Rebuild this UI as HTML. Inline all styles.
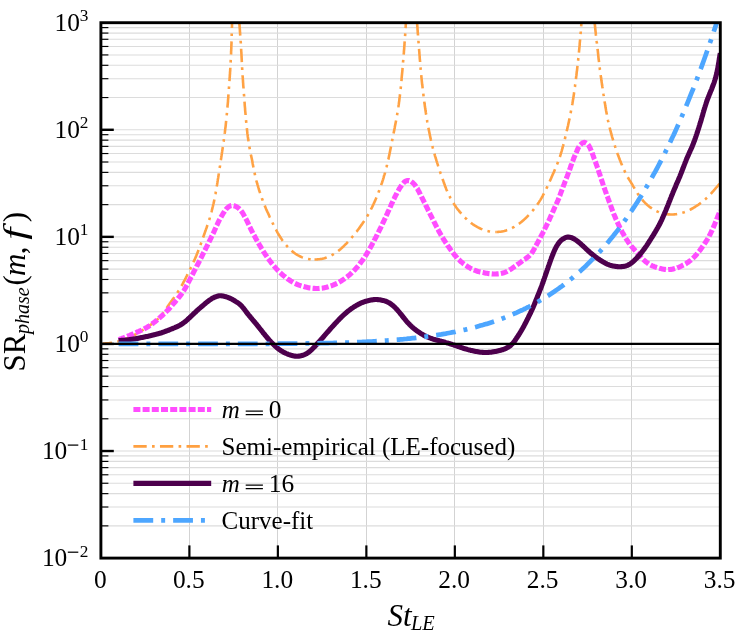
<!DOCTYPE html>
<html><head><meta charset="utf-8"><style>
html,body{margin:0;padding:0;background:#fff;}
svg{display:block;}
text{font-family:"Liberation Serif",serif;fill:#000;}
svg{will-change:transform;}
</style></head><body>
<svg width="736" height="639" viewBox="0 0 736 639">
<rect width="736" height="639" fill="#fff"/>
<defs><clipPath id="c"><rect x="100.9" y="22.7" width="619.4" height="535.4"/></clipPath></defs>
<g stroke="#dcdcdc" stroke-width="1.1">
<line x1="189.5" y1="22.7" x2="189.5" y2="558.1" stroke="#d3d3d3" stroke-width="1"/><line x1="277.5" y1="22.7" x2="277.5" y2="558.1" stroke="#d3d3d3" stroke-width="1"/><line x1="366.5" y1="22.7" x2="366.5" y2="558.1" stroke="#d3d3d3" stroke-width="1"/><line x1="454.5" y1="22.7" x2="454.5" y2="558.1" stroke="#d3d3d3" stroke-width="1"/><line x1="543.5" y1="22.7" x2="543.5" y2="558.1" stroke="#d3d3d3" stroke-width="1"/><line x1="631.5" y1="22.7" x2="631.5" y2="558.1" stroke="#d3d3d3" stroke-width="1"/>
<line x1="100.9" y1="525.87" x2="720.3" y2="525.87"/><line x1="100.9" y1="507.01" x2="720.3" y2="507.01"/><line x1="100.9" y1="493.63" x2="720.3" y2="493.63"/><line x1="100.9" y1="483.25" x2="720.3" y2="483.25"/><line x1="100.9" y1="474.78" x2="720.3" y2="474.78"/><line x1="100.9" y1="467.61" x2="720.3" y2="467.61"/><line x1="100.9" y1="461.40" x2="720.3" y2="461.40"/><line x1="100.9" y1="455.92" x2="720.3" y2="455.92"/><line x1="100.9" y1="451.02" x2="720.3" y2="451.02"/><line x1="100.9" y1="418.79" x2="720.3" y2="418.79"/><line x1="100.9" y1="399.93" x2="720.3" y2="399.93"/><line x1="100.9" y1="386.55" x2="720.3" y2="386.55"/><line x1="100.9" y1="376.17" x2="720.3" y2="376.17"/><line x1="100.9" y1="367.70" x2="720.3" y2="367.70"/><line x1="100.9" y1="360.53" x2="720.3" y2="360.53"/><line x1="100.9" y1="354.32" x2="720.3" y2="354.32"/><line x1="100.9" y1="348.84" x2="720.3" y2="348.84"/><line x1="100.9" y1="343.94" x2="720.3" y2="343.94"/><line x1="100.9" y1="311.71" x2="720.3" y2="311.71"/><line x1="100.9" y1="292.85" x2="720.3" y2="292.85"/><line x1="100.9" y1="279.47" x2="720.3" y2="279.47"/><line x1="100.9" y1="269.09" x2="720.3" y2="269.09"/><line x1="100.9" y1="260.62" x2="720.3" y2="260.62"/><line x1="100.9" y1="253.45" x2="720.3" y2="253.45"/><line x1="100.9" y1="247.24" x2="720.3" y2="247.24"/><line x1="100.9" y1="241.76" x2="720.3" y2="241.76"/><line x1="100.9" y1="236.86" x2="720.3" y2="236.86"/><line x1="100.9" y1="204.63" x2="720.3" y2="204.63"/><line x1="100.9" y1="185.77" x2="720.3" y2="185.77"/><line x1="100.9" y1="172.39" x2="720.3" y2="172.39"/><line x1="100.9" y1="162.01" x2="720.3" y2="162.01"/><line x1="100.9" y1="153.54" x2="720.3" y2="153.54"/><line x1="100.9" y1="146.37" x2="720.3" y2="146.37"/><line x1="100.9" y1="140.16" x2="720.3" y2="140.16"/><line x1="100.9" y1="134.68" x2="720.3" y2="134.68"/><line x1="100.9" y1="129.78" x2="720.3" y2="129.78"/><line x1="100.9" y1="97.55" x2="720.3" y2="97.55"/><line x1="100.9" y1="78.69" x2="720.3" y2="78.69"/><line x1="100.9" y1="65.31" x2="720.3" y2="65.31"/><line x1="100.9" y1="54.93" x2="720.3" y2="54.93"/><line x1="100.9" y1="46.46" x2="720.3" y2="46.46"/><line x1="100.9" y1="39.29" x2="720.3" y2="39.29"/><line x1="100.9" y1="33.08" x2="720.3" y2="33.08"/><line x1="100.9" y1="27.60" x2="720.3" y2="27.60"/>
</g>
<g clip-path="url(#c)" fill="none" stroke-linejoin="round">
<path d="M102.8,343.6 L103.8,343.6 L104.8,343.5 L105.8,343.4 L106.8,343.4 L107.8,343.3 L108.8,343.2 L109.8,343.0 L110.8,342.9 L111.8,342.7 L112.7,342.6 L113.7,342.4 L114.7,342.2 L115.7,341.9 L116.7,341.7 L117.6,341.5 L118.6,341.2 L119.5,340.9 L120.5,340.6 L121.5,340.3 L122.4,340.0 L123.4,339.7 L124.3,339.3 L125.2,339.0 L126.2,338.6 L127.1,338.3 L128.0,337.9 L128.9,337.5 L129.9,337.1 L130.8,336.7 L131.7,336.3 L132.6,335.9 L133.5,335.4 L134.4,335.0 L135.3,334.5 L136.2,334.1 L137.0,333.6 L137.9,333.1 L138.8,332.6 L139.6,332.1 L140.5,331.5 L141.3,331.0 L142.2,330.5 L143.0,329.9 L143.9,329.4 L144.7,328.9 L145.5,328.3 L146.4,327.7 L147.2,327.2 L148.0,326.6 L148.9,326.1 L149.7,325.5 L150.5,324.9 L151.3,324.3 L152.1,323.8 L152.9,323.2 L153.7,322.5 L154.5,321.9 L155.3,321.3 L156.0,320.6 L156.8,320.0 L157.5,319.3 L158.2,318.6 L158.9,317.9 L159.6,317.1 L160.3,316.4 L161.0,315.6 L161.6,314.9 L162.2,314.1 L162.9,313.3 L163.5,312.5 L164.1,311.7 L164.6,310.9 L165.2,310.1 L165.8,309.3 L166.3,308.4 L166.9,307.6 L167.5,306.8 L168.0,306.0 L168.6,305.1 L169.2,304.3 L169.7,303.5 L170.3,302.7 L170.9,301.9 L171.5,301.1 L172.1,300.2 L172.7,299.4 L173.3,298.6 L173.9,297.8 L174.4,297.0 L175.0,296.2 L175.6,295.4 L176.2,294.5 L176.7,293.7 L177.3,292.9 L177.8,292.0 L178.3,291.2 L178.9,290.4 L179.4,289.5 L179.9,288.6 L180.4,287.8 L180.9,286.9 L181.4,286.1 L181.9,285.2 L182.4,284.3 L182.9,283.4 L183.4,282.5 L183.8,281.7 L184.3,280.8 L184.8,279.9 L185.2,279.0 L185.7,278.1 L186.1,277.2 L186.6,276.3 L187.0,275.4 L187.5,274.5 L187.9,273.7 L188.4,272.8 L188.8,271.9 L189.3,271.0 L189.7,270.1 L190.1,269.2 L190.6,268.3 L191.0,267.4 L191.5,266.5 L191.9,265.6 L192.3,264.7 L192.7,263.8 L193.2,262.9 L193.6,261.9 L194.0,261.0 L194.4,260.1 L194.8,259.2 L195.2,258.3 L195.6,257.4 L196.0,256.4 L196.4,255.5 L196.7,254.6 L197.1,253.7 L197.5,252.7 L197.9,251.8 L198.2,250.9 L198.6,250.0 L199.0,249.0 L199.3,248.1 L199.7,247.1 L200.0,246.2 L200.4,245.3 L200.7,244.3 L201.0,243.4 L201.4,242.4 L201.7,241.5 L202.0,240.6 L202.4,239.6 L202.7,238.7 L203.0,237.7 L203.4,236.8 L203.7,235.8 L204.0,234.9 L204.4,234.0 L204.7,233.0 L205.0,232.1 L205.4,231.1 L205.7,230.2 L206.0,229.2 L206.4,228.3 L206.7,227.4 L207.0,226.4 L207.3,225.5 L207.7,224.5 L208.0,223.6 L208.3,222.6 L208.6,221.7 L208.9,220.7 L209.2,219.8 L209.5,218.8 L209.8,217.8 L210.0,216.9 L210.3,215.9 L210.6,215.0 L210.9,214.0 L211.1,213.0 L211.4,212.1 L211.7,211.1 L211.9,210.1 L212.2,209.2 L212.4,208.2 L212.6,207.2 L212.9,206.3 L213.1,205.3 L213.3,204.3 L213.6,203.3 L213.8,202.4 L214.0,201.4 L214.2,200.4 L214.4,199.4 L214.6,198.4 L214.8,197.5 L215.0,196.5 L215.2,195.5 L215.4,194.5 L215.6,193.5 L215.7,192.5 L215.9,191.6 L216.1,190.6 L216.2,189.6 L216.4,188.6 L216.6,187.6 L216.7,186.6 L216.9,185.6 L217.1,184.7 L217.2,183.7 L217.4,182.7 L217.5,181.7 L217.7,180.7 L217.8,179.7 L218.0,178.7 L218.2,177.7 L218.3,176.8 L218.5,175.8 L218.6,174.8 L218.8,173.8 L218.9,172.8 L219.1,171.8 L219.2,170.8 L219.4,169.8 L219.5,168.8 L219.7,167.9 L219.8,166.9 L220.0,165.9 L220.1,164.9 L220.3,163.9 L220.4,162.9 L220.6,161.9 L220.7,160.9 L220.9,159.9 L221.0,159.0 L221.2,158.0 L221.3,157.0 L221.5,156.0 L221.6,155.0 L221.8,154.0 L221.9,153.0 L222.1,152.0 L222.2,151.1 L222.4,150.1 L222.5,149.1 L222.7,148.1 L222.8,147.1 L223.0,146.1 L223.1,145.1 L223.2,144.1 L223.4,143.1 L223.5,142.1 L223.7,141.2 L223.8,140.2 L223.9,139.2 L224.1,138.2 L224.2,137.2 L224.3,136.2 L224.5,135.2 L224.6,134.2 L224.7,133.2 L224.9,132.2 L225.0,131.2 L225.1,130.2 L225.2,129.3 L225.3,128.3 L225.5,127.3 L225.6,126.3 L225.7,125.3 L225.8,124.3 L225.9,123.3 L226.0,122.3 L226.1,121.3 L226.2,120.3 L226.3,119.3 L226.4,118.3 L226.5,117.3 L226.6,116.3 L226.7,115.3 L226.8,114.3 L226.9,113.3 L227.0,112.3 L227.1,111.4 L227.2,110.4 L227.3,109.4 L227.4,108.4 L227.5,107.4 L227.5,106.4 L227.6,105.4 L227.7,104.4 L227.8,103.4 L227.9,102.4 L228.0,101.4 L228.0,100.4 L228.1,99.4 L228.2,98.4 L228.3,97.4 L228.3,96.4 L228.4,95.4 L228.5,94.4 L228.6,93.4 L228.6,92.4 L228.7,91.4 L228.8,90.4 L228.9,89.4 L228.9,88.4 L229.0,87.4 L229.1,86.4 L229.1,85.4 L229.2,84.4 L229.3,83.4 L229.4,82.4 L229.4,81.4 L229.5,80.4 L229.6,79.4 L229.6,78.5 L229.7,77.5 L229.8,76.5 L229.8,75.5 L229.9,74.5 L230.0,73.5 L230.0,72.5 L230.1,71.5 L230.2,70.5 L230.2,69.5 L230.3,68.5 L230.3,67.5 L230.4,66.5 L230.5,65.5 L230.5,64.5 L230.6,63.5 L230.6,62.5 L230.7,61.5 L230.7,60.5 L230.8,59.5 L230.8,58.5 L230.9,57.5 L230.9,56.5 L231.0,55.5 L231.0,54.5 L231.1,53.5 L231.1,52.5 L231.1,51.5 L231.2,50.5 L231.2,49.5 L231.3,48.5 L231.3,47.5 L231.3,46.5 L231.4,45.5 L231.4,44.5 L231.5,43.5 L231.5,42.5 L231.5,41.5 L231.6,40.5 L231.6,39.5 L231.6,38.5 L231.7,37.5 L231.7,36.5 L231.7,35.5 L231.7,34.5 L231.8,33.5 L231.8,32.5 L231.8,31.5 L231.9,30.5 L231.9,29.5 L231.9,28.5 L231.9,27.5 L232.0,26.5 L232.0,25.5 L232.0,24.5 L232.0,23.5 L232.1,22.5 L232.1,21.5 L232.1,20.5 L232.1,19.5 L232.2,18.5 L232.2,17.5 L232.2,16.5 L232.2,15.5 L232.3,14.5 L232.3,13.5 L232.3,12.5 L232.3,11.5 L232.3,10.5 L232.4,9.5 L232.4,8.5 L232.4,7.5 L232.4,6.5 L232.5,5.5 L232.5,4.5 L232.5,3.5 L232.5,2.5 L232.6,1.5 L232.6,0.5 L232.6,0.0" stroke="#ffa244" stroke-width="2.6" stroke-dasharray="13.3 5.3 2.66 5.3" stroke-dashoffset="4.03"/>
<path d="M238.9,0.0 L238.9,1.0 L238.8,2.0 L238.8,3.0 L238.8,4.0 L238.8,5.0 L238.8,6.0 L238.8,7.0 L238.8,8.0 L238.8,9.0 L238.8,10.0 L238.8,11.0 L238.9,12.0 L238.9,13.0 L238.9,14.0 L239.0,15.0 L239.0,16.0 L239.0,17.0 L239.1,18.0 L239.1,19.0 L239.2,20.0 L239.2,21.0 L239.3,22.0 L239.4,23.0 L239.4,24.0 L239.5,25.0 L239.6,26.0 L239.6,27.0 L239.7,28.0 L239.8,29.0 L239.9,30.0 L239.9,31.0 L240.0,32.0 L240.1,33.0 L240.1,34.0 L240.2,35.0 L240.3,36.0 L240.4,37.0 L240.4,38.0 L240.5,39.0 L240.6,40.0 L240.6,41.0 L240.7,41.9 L240.8,42.9 L240.8,43.9 L240.9,44.9 L241.0,45.9 L241.0,46.9 L241.1,47.9 L241.1,48.9 L241.2,49.9 L241.2,50.9 L241.3,51.9 L241.4,52.9 L241.4,53.9 L241.5,54.9 L241.5,55.9 L241.6,56.9 L241.6,57.9 L241.7,58.9 L241.7,59.9 L241.8,60.9 L241.8,61.9 L241.9,62.9 L241.9,63.9 L242.0,64.9 L242.0,65.9 L242.1,66.9 L242.1,67.9 L242.2,68.9 L242.2,69.9 L242.3,70.9 L242.4,71.9 L242.4,72.9 L242.5,73.9 L242.6,74.9 L242.6,75.9 L242.7,76.9 L242.8,77.9 L242.8,78.9 L242.9,79.9 L243.0,80.9 L243.0,81.9 L243.1,82.9 L243.2,83.9 L243.2,84.9 L243.3,85.9 L243.4,86.9 L243.5,87.9 L243.5,88.9 L243.6,89.9 L243.7,90.9 L243.8,91.9 L243.8,92.9 L243.9,93.8 L244.0,94.8 L244.1,95.8 L244.1,96.8 L244.2,97.8 L244.3,98.8 L244.4,99.8 L244.4,100.8 L244.5,101.8 L244.6,102.8 L244.7,103.8 L244.7,104.8 L244.8,105.8 L244.9,106.8 L245.0,107.8 L245.1,108.8 L245.1,109.8 L245.2,110.8 L245.3,111.8 L245.4,112.8 L245.5,113.8 L245.6,114.8 L245.6,115.8 L245.7,116.8 L245.8,117.8 L245.9,118.8 L246.0,119.8 L246.1,120.8 L246.2,121.8 L246.3,122.8 L246.4,123.7 L246.5,124.7 L246.6,125.7 L246.7,126.7 L246.8,127.7 L246.9,128.7 L247.0,129.7 L247.1,130.7 L247.2,131.7 L247.3,132.7 L247.4,133.7 L247.6,134.7 L247.7,135.7 L247.8,136.7 L248.0,137.7 L248.1,138.7 L248.2,139.6 L248.4,140.6 L248.5,141.6 L248.7,142.6 L248.8,143.6 L249.0,144.6 L249.2,145.6 L249.3,146.6 L249.5,147.5 L249.7,148.5 L249.9,149.5 L250.1,150.5 L250.3,151.5 L250.5,152.5 L250.6,153.4 L250.8,154.4 L251.0,155.4 L251.3,156.4 L251.5,157.4 L251.7,158.3 L251.9,159.3 L252.1,160.3 L252.3,161.3 L252.5,162.3 L252.6,163.2 L252.8,164.2 L253.0,165.2 L253.2,166.2 L253.4,167.2 L253.6,168.1 L253.8,169.1 L254.0,170.1 L254.2,171.1 L254.4,172.1 L254.6,173.0 L254.8,174.0 L255.0,175.0 L255.2,176.0 L255.5,176.9 L255.7,177.9 L255.9,178.9 L256.2,179.9 L256.4,180.8 L256.7,181.8 L257.0,182.8 L257.2,183.7 L257.5,184.7 L257.8,185.6 L258.1,186.6 L258.4,187.6 L258.7,188.5 L258.9,189.5 L259.2,190.4 L259.5,191.4 L259.9,192.3 L260.2,193.3 L260.5,194.2 L260.8,195.2 L261.1,196.1 L261.4,197.1 L261.8,198.0 L262.1,199.0 L262.5,199.9 L262.8,200.8 L263.2,201.8 L263.5,202.7 L263.9,203.6 L264.3,204.5 L264.7,205.5 L265.0,206.4 L265.4,207.3 L265.8,208.2 L266.2,209.2 L266.6,210.1 L267.0,211.0 L267.4,211.9 L267.9,212.8 L268.3,213.7 L268.7,214.6 L269.1,215.5 L269.5,216.5 L269.9,217.4 L270.4,218.3 L270.8,219.2 L271.2,220.1 L271.6,221.0 L272.1,221.9 L272.5,222.8 L272.9,223.7 L273.4,224.6 L273.8,225.5 L274.2,226.4 L274.7,227.3 L275.2,228.2 L275.6,229.1 L276.1,229.9 L276.6,230.8 L277.0,231.7 L277.5,232.6 L278.0,233.4 L278.5,234.3 L279.1,235.2 L279.6,236.0 L280.1,236.9 L280.7,237.7 L281.2,238.5 L281.8,239.4 L282.3,240.2 L282.9,241.0 L283.5,241.8 L284.1,242.6 L284.7,243.4 L285.3,244.2 L286.0,245.0 L286.6,245.7 L287.3,246.5 L288.0,247.2 L288.7,247.9 L289.4,248.7 L290.1,249.4 L290.8,250.0 L291.6,250.7 L292.3,251.4 L293.1,252.0 L293.9,252.6 L294.7,253.2 L295.5,253.8 L296.4,254.3 L297.2,254.9 L298.1,255.4 L299.0,255.8 L299.9,256.3 L300.8,256.7 L301.7,257.1 L302.7,257.5 L303.6,257.8 L304.6,258.1 L305.5,258.4 L306.5,258.6 L307.5,258.8 L308.5,259.0 L309.5,259.2 L310.5,259.3 L311.5,259.4 L312.5,259.5 L313.5,259.5 L314.5,259.5" stroke="#ffa244" stroke-width="2.6" stroke-dasharray="13.3 5.3 2.66 5.3" stroke-dashoffset="4.23"/>
<path d="M314.5,259.5 L315.5,259.5 L316.5,259.5 L317.5,259.4 L318.5,259.3 L319.5,259.2 L320.5,259.0 L321.5,258.9 L322.4,258.7 L323.4,258.4 L324.4,258.2 L325.3,257.9 L326.3,257.6 L327.2,257.2 L328.2,256.9 L329.1,256.5 L330.0,256.1 L330.9,255.6 L331.8,255.1 L332.7,254.7 L333.5,254.2 L334.4,253.6 L335.2,253.1 L336.1,252.5 L336.9,251.9 L337.7,251.3 L338.5,250.7 L339.3,250.1 L340.1,249.5 L340.8,248.8 L341.6,248.2 L342.3,247.5 L343.1,246.8 L343.8,246.1 L344.5,245.4 L345.2,244.7 L345.9,244.0 L346.6,243.3 L347.3,242.5 L348.0,241.8 L348.6,241.0 L349.3,240.3 L350.0,239.5 L350.6,238.8 L351.3,238.0 L351.9,237.3 L352.6,236.5 L353.2,235.7 L353.8,235.0 L354.5,234.2 L355.1,233.4 L355.7,232.6 L356.3,231.8 L357.0,231.1 L357.6,230.3 L358.2,229.5 L358.8,228.7 L359.4,227.9 L360.0,227.1 L360.5,226.2 L361.1,225.4 L361.7,224.6 L362.3,223.8 L362.8,223.0 L363.4,222.1 L364.0,221.3 L364.5,220.5 L365.1,219.6 L365.6,218.8 L366.1,217.9 L366.6,217.1 L367.2,216.2 L367.7,215.4 L368.2,214.5 L368.7,213.6 L369.2,212.8 L369.6,211.9 L370.1,211.0 L370.6,210.1 L371.0,209.2 L371.5,208.3 L372.0,207.4 L372.4,206.5 L372.8,205.6 L373.3,204.7 L373.7,203.8 L374.1,202.9 L374.5,202.0 L374.9,201.1 L375.3,200.2 L375.7,199.3 L376.1,198.3 L376.5,197.4 L376.9,196.5 L377.3,195.6 L377.6,194.6 L378.0,193.7 L378.4,192.8 L378.7,191.8 L379.1,190.9 L379.4,190.0 L379.8,189.0 L380.1,188.1 L380.4,187.1 L380.8,186.2 L381.1,185.3 L381.4,184.3 L381.7,183.4 L382.1,182.4 L382.4,181.5 L382.7,180.5 L383.0,179.6 L383.3,178.6 L383.6,177.6 L383.8,176.7 L384.1,175.7 L384.4,174.8 L384.7,173.8 L385.0,172.8 L385.2,171.9 L385.5,170.9 L385.7,169.9 L386.0,169.0 L386.2,168.0 L386.5,167.0 L386.7,166.1 L387.0,165.1 L387.2,164.1 L387.5,163.2 L387.7,162.2 L387.9,161.2 L388.1,160.2 L388.4,159.3 L388.6,158.3 L388.8,157.3 L389.0,156.3 L389.2,155.4 L389.4,154.4 L389.6,153.4 L389.8,152.4 L390.0,151.4 L390.2,150.5 L390.4,149.5 L390.6,148.5 L390.8,147.5 L391.0,146.5 L391.2,145.6 L391.4,144.6 L391.6,143.6 L391.8,142.6 L392.0,141.6 L392.2,140.6 L392.3,139.7 L392.5,138.7 L392.7,137.7 L392.9,136.7 L393.1,135.7 L393.3,134.8 L393.5,133.8 L393.7,132.8 L393.9,131.8 L394.1,130.8 L394.3,129.8 L394.5,128.9 L394.7,127.9 L394.8,126.9 L395.0,125.9 L395.2,124.9 L395.4,124.0 L395.6,123.0 L395.8,122.0 L396.0,121.0 L396.2,120.0 L396.4,119.0 L396.5,118.1 L396.7,117.1 L396.9,116.1 L397.1,115.1 L397.2,114.1 L397.4,113.1 L397.6,112.2 L397.7,111.2 L397.9,110.2 L398.0,109.2 L398.2,108.2 L398.3,107.2 L398.5,106.2 L398.6,105.2 L398.8,104.2 L398.9,103.3 L399.0,102.3 L399.2,101.3 L399.3,100.3 L399.4,99.3 L399.5,98.3 L399.7,97.3 L399.8,96.3 L399.9,95.3 L400.0,94.3 L400.1,93.3 L400.2,92.3 L400.3,91.3 L400.4,90.3 L400.6,89.3 L400.7,88.4 L400.8,87.4 L400.9,86.4 L401.0,85.4 L401.1,84.4 L401.2,83.4 L401.3,82.4 L401.4,81.4 L401.5,80.4 L401.6,79.4 L401.6,78.4 L401.7,77.4 L401.8,76.4 L401.9,75.4 L402.0,74.4 L402.1,73.4 L402.2,72.4 L402.3,71.4 L402.4,70.4 L402.5,69.4 L402.5,68.4 L402.6,67.4 L402.7,66.4 L402.8,65.5 L402.9,64.5 L403.0,63.5 L403.0,62.5 L403.1,61.5 L403.2,60.5 L403.3,59.5 L403.4,58.5 L403.5,57.5 L403.5,56.5 L403.6,55.5 L403.7,54.5 L403.8,53.5 L403.9,52.5 L403.9,51.5 L404.0,50.5 L404.1,49.5 L404.2,48.5 L404.2,47.5 L404.3,46.5 L404.4,45.5 L404.5,44.5 L404.5,43.5 L404.6,42.5 L404.7,41.5 L404.8,40.5 L404.8,39.5 L404.9,38.5 L405.0,37.5 L405.0,36.5 L405.1,35.5 L405.2,34.5 L405.2,33.5 L405.3,32.5 L405.4,31.5 L405.4,30.5 L405.5,29.6 L405.5,28.6 L405.6,27.6 L405.7,26.6 L405.7,25.6 L405.8,24.6 L405.8,23.6 L405.9,22.6 L405.9,21.6 L406.0,20.6 L406.0,19.6 L406.1,18.6 L406.1,17.6 L406.2,16.6 L406.2,15.6 L406.2,14.6 L406.3,13.6 L406.3,12.6 L406.3,11.6 L406.4,10.6 L406.4,9.6 L406.4,8.6 L406.5,7.6 L406.5,6.6 L406.5,5.6 L406.5,4.6 L406.5,3.6 L406.6,2.6 L406.6,1.6 L406.6,0.6 L406.6,0.0" stroke="#ffa244" stroke-width="2.6" stroke-dasharray="13.3 5.3 2.66 5.3" stroke-dashoffset="0.84"/>
<path d="M416.4,0.0 L416.4,1.0 L416.4,2.0 L416.4,3.0 L416.4,4.0 L416.4,5.0 L416.4,6.0 L416.4,7.0 L416.5,8.0 L416.5,9.0 L416.5,10.0 L416.5,11.0 L416.6,12.0 L416.6,13.0 L416.7,14.0 L416.7,15.0 L416.7,16.0 L416.8,17.0 L416.8,18.0 L416.9,19.0 L416.9,20.0 L417.0,21.0 L417.1,22.0 L417.1,23.0 L417.2,24.0 L417.2,25.0 L417.3,26.0 L417.4,27.0 L417.5,28.0 L417.5,29.0 L417.6,30.0 L417.7,31.0 L417.7,32.0 L417.8,33.0 L417.9,34.0 L418.0,35.0 L418.0,36.0 L418.1,37.0 L418.2,38.0 L418.3,38.9 L418.4,39.9 L418.4,40.9 L418.5,41.9 L418.6,42.9 L418.7,43.9 L418.7,44.9 L418.8,45.9 L418.9,46.9 L419.0,47.9 L419.1,48.9 L419.1,49.9 L419.2,50.9 L419.3,51.9 L419.4,52.9 L419.4,53.9 L419.5,54.9 L419.6,55.9 L419.7,56.9 L419.7,57.9 L419.8,58.9 L419.9,59.9 L420.0,60.9 L420.1,61.9 L420.1,62.9 L420.2,63.9 L420.3,64.9 L420.4,65.9 L420.5,66.9 L420.6,67.9 L420.6,68.9 L420.7,69.9 L420.8,70.8 L420.9,71.8 L421.0,72.8 L421.1,73.8 L421.2,74.8 L421.3,75.8 L421.4,76.8 L421.5,77.8 L421.6,78.8 L421.7,79.8 L421.8,80.8 L421.9,81.8 L422.0,82.8 L422.1,83.8 L422.2,84.8 L422.4,85.8 L422.5,86.8 L422.6,87.8 L422.7,88.7 L422.8,89.7 L422.9,90.7 L423.0,91.7 L423.2,92.7 L423.3,93.7 L423.4,94.7 L423.5,95.7 L423.6,96.7 L423.8,97.7 L423.9,98.7 L424.0,99.7 L424.2,100.7 L424.3,101.7 L424.4,102.6 L424.5,103.6 L424.7,104.6 L424.8,105.6 L424.9,106.6 L425.1,107.6 L425.2,108.6 L425.4,109.6 L425.5,110.6 L425.7,111.6 L425.8,112.5 L426.0,113.5 L426.1,114.5 L426.3,115.5 L426.4,116.5 L426.6,117.5 L426.7,118.5 L426.9,119.5 L427.1,120.4 L427.2,121.4 L427.4,122.4 L427.6,123.4 L427.7,124.4 L427.9,125.4 L428.1,126.4 L428.3,127.3 L428.5,128.3 L428.7,129.3 L428.9,130.3 L429.1,131.3 L429.3,132.2 L429.5,133.2 L429.7,134.2 L429.9,135.2 L430.1,136.2 L430.3,137.1 L430.5,138.1 L430.7,139.1 L430.9,140.1 L431.2,141.0 L431.4,142.0 L431.6,143.0 L431.9,144.0 L432.1,144.9 L432.4,145.9 L432.6,146.9 L432.8,147.8 L433.1,148.8 L433.3,149.8 L433.6,150.7 L433.9,151.7 L434.1,152.7 L434.4,153.6 L434.7,154.6 L434.9,155.6 L435.2,156.5 L435.5,157.5 L435.8,158.4 L436.1,159.4 L436.4,160.4 L436.7,161.3 L437.0,162.3 L437.3,163.2 L437.6,164.2 L437.9,165.1 L438.2,166.1 L438.5,167.0 L438.8,168.0 L439.1,168.9 L439.4,169.9 L439.8,170.8 L440.1,171.8 L440.4,172.7 L440.7,173.7 L441.1,174.6 L441.4,175.5 L441.7,176.5 L442.0,177.4 L442.4,178.4 L442.7,179.3 L443.0,180.3 L443.4,181.2 L443.7,182.2 L444.0,183.1 L444.4,184.0 L444.7,185.0 L445.0,185.9 L445.4,186.9 L445.8,187.8 L446.1,188.7 L446.5,189.7 L446.9,190.6 L447.3,191.5 L447.7,192.4 L448.1,193.3 L448.5,194.2 L449.0,195.1 L449.4,196.0 L449.9,196.9 L450.3,197.8 L450.8,198.7 L451.3,199.6 L451.8,200.4 L452.3,201.3 L452.8,202.1 L453.4,203.0 L453.9,203.8 L454.4,204.7 L455.0,205.5 L455.6,206.3 L456.1,207.1 L456.7,208.0 L457.3,208.8 L457.9,209.6 L458.6,210.3 L459.2,211.1 L459.8,211.9 L460.5,212.7 L461.1,213.4 L461.8,214.2 L462.4,214.9 L463.1,215.7 L463.8,216.4 L464.5,217.1 L465.2,217.8 L465.9,218.5 L466.7,219.2 L467.4,219.9 L468.1,220.6 L468.9,221.2 L469.7,221.8 L470.5,222.5 L471.2,223.1 L472.1,223.7 L472.9,224.3 L473.7,224.8 L474.5,225.4 L475.4,225.9 L476.3,226.4 L477.1,226.9 L478.0,227.4 L478.9,227.8 L479.8,228.3 L480.7,228.7 L481.7,229.1 L482.6,229.5 L483.5,229.8 L484.5,230.1 L485.4,230.4 L486.4,230.7 L487.4,231.0 L488.4,231.2 L489.3,231.4 L490.3,231.6 L491.3,231.7 L492.3,231.8 L493.3,231.9 L494.3,232.0 L495.3,232.0 L496.3,232.0" stroke="#ffa244" stroke-width="2.6" stroke-dasharray="13.3 5.3 2.66 5.3" stroke-dashoffset="4.22"/>
<path d="M496.3,232.0 L497.3,232.0 L498.3,231.9 L499.3,231.8 L500.3,231.7 L501.3,231.6 L502.3,231.4 L503.3,231.2 L504.3,231.0 L505.2,230.7 L506.2,230.4 L507.2,230.1 L508.1,229.8 L509.0,229.4 L510.0,229.0 L510.9,228.6 L511.8,228.2 L512.7,227.7 L513.6,227.2 L514.4,226.8 L515.3,226.2 L516.1,225.7 L517.0,225.2 L517.8,224.6 L518.6,224.0 L519.5,223.4 L520.3,222.8 L521.0,222.2 L521.8,221.6 L522.6,220.9 L523.4,220.3 L524.1,219.6 L524.8,218.9 L525.6,218.2 L526.3,217.6 L527.0,216.9 L527.7,216.1 L528.4,215.4 L529.1,214.7 L529.8,214.0 L530.5,213.2 L531.1,212.5 L531.8,211.7 L532.4,211.0 L533.1,210.2 L533.7,209.4 L534.3,208.6 L535.0,207.8 L535.6,207.1 L536.2,206.2 L536.7,205.4 L537.3,204.6 L537.9,203.8 L538.4,203.0 L539.0,202.1 L539.5,201.3 L540.1,200.4 L540.6,199.6 L541.1,198.7 L541.6,197.9 L542.1,197.0 L542.6,196.1 L543.0,195.2 L543.5,194.3 L544.0,193.5 L544.4,192.6 L544.9,191.7 L545.3,190.8 L545.8,189.9 L546.2,189.0 L546.6,188.1 L547.1,187.2 L547.5,186.3 L547.9,185.4 L548.3,184.4 L548.8,183.5 L549.2,182.6 L549.6,181.7 L550.0,180.8 L550.4,179.9 L550.8,179.0 L551.2,178.1 L551.6,177.1 L552.0,176.2 L552.4,175.3 L552.8,174.4 L553.2,173.5 L553.6,172.6 L554.0,171.7 L554.4,170.7 L554.8,169.8 L555.2,168.9 L555.6,168.0 L556.0,167.0 L556.4,166.1 L556.7,165.2 L557.1,164.3 L557.5,163.3 L557.9,162.4 L558.2,161.5 L558.6,160.5 L558.9,159.6 L559.2,158.7 L559.6,157.7 L559.9,156.8 L560.2,155.8 L560.5,154.9 L560.8,153.9 L561.1,153.0 L561.4,152.0 L561.7,151.0 L561.9,150.1 L562.2,149.1 L562.5,148.2 L562.7,147.2 L563.0,146.2 L563.3,145.3 L563.5,144.3 L563.8,143.3 L564.0,142.3 L564.2,141.4 L564.5,140.4 L564.7,139.4 L565.0,138.5 L565.2,137.5 L565.4,136.5 L565.7,135.5 L565.9,134.6 L566.1,133.6 L566.4,132.6 L566.6,131.6 L566.8,130.7 L567.1,129.7 L567.3,128.7 L567.5,127.7 L567.7,126.8 L568.0,125.8 L568.2,124.8 L568.4,123.8 L568.6,122.9 L568.8,121.9 L569.0,120.9 L569.2,119.9 L569.5,119.0 L569.7,118.0 L569.9,117.0 L570.1,116.0 L570.3,115.0 L570.5,114.1 L570.7,113.1 L570.8,112.1 L571.0,111.1 L571.2,110.1 L571.4,109.2 L571.6,108.2 L571.8,107.2 L571.9,106.2 L572.1,105.2 L572.3,104.2 L572.5,103.2 L572.6,102.3 L572.8,101.3 L572.9,100.3 L573.1,99.3 L573.3,98.3 L573.4,97.3 L573.6,96.3 L573.7,95.3 L573.9,94.4 L574.0,93.4 L574.1,92.4 L574.3,91.4 L574.4,90.4 L574.6,89.4 L574.7,88.4 L574.8,87.4 L575.0,86.4 L575.1,85.4 L575.2,84.4 L575.4,83.5 L575.5,82.5 L575.6,81.5 L575.8,80.5 L575.9,79.5 L576.0,78.5 L576.1,77.5 L576.2,76.5 L576.4,75.5 L576.5,74.5 L576.6,73.5 L576.7,72.5 L576.8,71.5 L577.0,70.6 L577.1,69.6 L577.2,68.6 L577.3,67.6 L577.4,66.6 L577.5,65.6 L577.6,64.6 L577.7,63.6 L577.8,62.6 L577.9,61.6 L578.1,60.6 L578.2,59.6 L578.3,58.6 L578.4,57.6 L578.5,56.6 L578.6,55.6 L578.7,54.6 L578.8,53.6 L578.9,52.7 L579.0,51.7 L579.1,50.7 L579.2,49.7 L579.3,48.7 L579.4,47.7 L579.5,46.7 L579.6,45.7 L579.7,44.7 L579.7,43.7 L579.8,42.7 L579.9,41.7 L580.0,40.7 L580.1,39.7 L580.2,38.7 L580.3,37.7 L580.4,36.7 L580.4,35.7 L580.5,34.7 L580.6,33.7 L580.7,32.7 L580.8,31.7 L580.8,30.7 L580.9,29.7 L581.0,28.7 L581.1,27.7 L581.1,26.8 L581.2,25.8 L581.3,24.8 L581.3,23.8 L581.4,22.8 L581.5,21.8 L581.5,20.8 L581.6,19.8 L581.6,18.8 L581.7,17.8 L581.7,16.8 L581.8,15.8 L581.8,14.8 L581.9,13.8 L581.9,12.8 L582.0,11.8 L582.0,10.8 L582.0,9.8 L582.1,8.8 L582.1,7.8 L582.1,6.8 L582.2,5.8 L582.2,4.8 L582.2,3.8 L582.3,2.8 L582.3,1.8 L582.3,0.8 L582.3,0.0" stroke="#ffa244" stroke-width="2.6" stroke-dasharray="13.3 5.3 2.66 5.3" stroke-dashoffset="2.19"/>
<path d="M594.0,0.0 L594.0,1.0 L593.9,2.0 L593.9,3.0 L593.9,4.0 L593.9,5.0 L593.9,6.0 L593.9,7.0 L593.9,8.0 L593.9,9.0 L593.9,10.0 L594.0,11.0 L594.0,12.0 L594.1,13.0 L594.1,14.0 L594.2,15.0 L594.2,16.0 L594.3,17.0 L594.3,18.0 L594.4,19.0 L594.5,20.0 L594.6,21.0 L594.6,22.0 L594.7,23.0 L594.8,24.0 L594.9,25.0 L595.0,26.0 L595.1,27.0 L595.2,28.0 L595.3,29.0 L595.4,30.0 L595.5,31.0 L595.6,31.9 L595.7,32.9 L595.8,33.9 L595.9,34.9 L596.1,35.9 L596.2,36.9 L596.3,37.9 L596.4,38.9 L596.5,39.9 L596.6,40.9 L596.7,41.9 L596.9,42.9 L597.0,43.9 L597.1,44.9 L597.2,45.9 L597.3,46.9 L597.4,47.8 L597.5,48.8 L597.6,49.8 L597.8,50.8 L597.9,51.8 L598.0,52.8 L598.1,53.8 L598.2,54.8 L598.3,55.8 L598.4,56.8 L598.5,57.8 L598.6,58.8 L598.7,59.8 L598.9,60.8 L599.0,61.8 L599.1,62.8 L599.2,63.7 L599.3,64.7 L599.4,65.7 L599.6,66.7 L599.7,67.7 L599.8,68.7 L599.9,69.7 L600.1,70.7 L600.2,71.7 L600.3,72.7 L600.5,73.7 L600.6,74.7 L600.7,75.6 L600.9,76.6 L601.0,77.6 L601.2,78.6 L601.3,79.6 L601.4,80.6 L601.6,81.6 L601.7,82.6 L601.9,83.6 L602.0,84.6 L602.2,85.5 L602.3,86.5 L602.5,87.5 L602.6,88.5 L602.8,89.5 L602.9,90.5 L603.1,91.5 L603.2,92.5 L603.4,93.5 L603.5,94.4 L603.7,95.4 L603.8,96.4 L604.0,97.4 L604.1,98.4 L604.3,99.4 L604.4,100.4 L604.6,101.4 L604.7,102.4 L604.9,103.3 L605.1,104.3 L605.2,105.3 L605.4,106.3 L605.5,107.3 L605.7,108.3 L605.9,109.3 L606.0,110.2 L606.2,111.2 L606.4,112.2 L606.6,113.2 L606.8,114.2 L606.9,115.2 L607.1,116.1 L607.3,117.1 L607.5,118.1 L607.7,119.1 L607.9,120.1 L608.1,121.0 L608.4,122.0 L608.6,123.0 L608.8,124.0 L609.0,124.9 L609.2,125.9 L609.5,126.9 L609.7,127.9 L610.0,128.8 L610.2,129.8 L610.5,130.8 L610.7,131.7 L611.0,132.7 L611.2,133.7 L611.5,134.6 L611.8,135.6 L612.0,136.6 L612.3,137.5 L612.6,138.5 L612.9,139.4 L613.2,140.4 L613.5,141.4 L613.8,142.3 L614.1,143.3 L614.4,144.2 L614.7,145.2 L615.0,146.1 L615.3,147.1 L615.6,148.0 L615.9,149.0 L616.2,149.9 L616.6,150.9 L616.9,151.8 L617.2,152.8 L617.5,153.7 L617.9,154.6 L618.2,155.6 L618.6,156.5 L618.9,157.5 L619.3,158.4 L619.6,159.3 L620.0,160.3 L620.4,161.2 L620.7,162.1 L621.1,163.1 L621.5,164.0 L621.9,164.9 L622.2,165.8 L622.6,166.8 L623.0,167.7 L623.4,168.6 L623.8,169.5 L624.3,170.4 L624.7,171.3 L625.1,172.2 L625.6,173.1 L626.0,174.0 L626.5,174.9 L626.9,175.8 L627.4,176.7 L627.9,177.5 L628.4,178.4 L629.0,179.2 L629.5,180.1 L630.0,180.9 L630.6,181.8 L631.1,182.6 L631.6,183.5 L632.1,184.3 L632.6,185.2 L633.1,186.1 L633.6,186.9 L634.2,187.8 L634.7,188.7 L635.2,189.5 L635.7,190.4 L636.2,191.2 L636.7,192.1 L637.3,192.9 L637.8,193.8 L638.3,194.6 L638.9,195.4 L639.5,196.3 L640.1,197.1 L640.7,197.9 L641.3,198.7 L641.9,199.4 L642.6,200.2 L643.2,200.9 L643.9,201.7 L644.6,202.4 L645.3,203.1 L646.0,203.8 L646.8,204.5 L647.5,205.2 L648.3,205.8 L649.1,206.5 L649.9,207.1 L650.7,207.7 L651.5,208.2 L652.3,208.8 L653.2,209.3 L654.0,209.8 L654.9,210.3 L655.8,210.8 L656.7,211.2 L657.6,211.6 L658.6,212.0 L659.5,212.4 L660.4,212.7 L661.4,213.0 L662.4,213.3 L663.3,213.5 L664.3,213.8 L665.3,214.0 L666.3,214.1 L667.3,214.3 L668.3,214.4 L669.3,214.4 L670.3,214.5 L671.3,214.5 L672.3,214.5 L673.3,214.5 L674.3,214.4 L675.3,214.3 L676.3,214.2 L677.3,214.0 L678.3,213.9 L679.3,213.7 L680.3,213.4 L681.2,213.2 L682.2,212.9 L683.2,212.6 L684.1,212.3 L685.1,211.9 L686.0,211.6 L686.9,211.2 L687.8,210.8 L688.7,210.4 L689.6,209.9 L690.5,209.5 L691.4,209.0 L692.3,208.5 L693.2,208.0 L694.0,207.5 L694.9,207.0 L695.7,206.4 L696.6,205.9 L697.4,205.3 L698.2,204.8 L699.1,204.2 L699.9,203.6 L700.7,203.0 L701.5,202.4 L702.3,201.8 L703.1,201.2 L703.8,200.5 L704.6,199.9 L705.4,199.2 L706.1,198.5 L706.8,197.9 L707.6,197.2 L708.3,196.5 L709.0,195.8 L709.7,195.1 L710.3,194.3 L711.0,193.6 L711.7,192.8 L712.3,192.1 L713.0,191.3 L713.7,190.6 L714.3,189.8 L715.0,189.1 L715.6,188.3 L716.3,187.5 L716.9,186.8 L717.6,186.0 L718.2,185.3 L718.9,184.5 L719.6,183.8 L720.2,183.1 L720.3,183.0" stroke="#ffa244" stroke-width="2.6" stroke-dasharray="13.3 5.3 2.66 5.3" stroke-dashoffset="4.05"/>
<path d="M118.6,339.6 L119.5,339.3 L120.5,338.9 L121.4,338.6 L122.4,338.2 L123.3,337.9 L124.2,337.5 L125.2,337.1 L126.1,336.8 L127.0,336.4 L127.9,336.0 L128.9,335.6 L129.8,335.3 L130.7,334.9 L131.6,334.5 L132.5,334.1 L133.5,333.7 L134.4,333.3 L135.3,332.9 L136.2,332.5 L137.1,332.1 L138.0,331.7 L139.0,331.3 L139.9,330.9 L140.8,330.5 L141.7,330.1 L142.6,329.6 L143.5,329.2 L144.4,328.7 L145.3,328.3 L146.2,327.8 L147.0,327.3 L147.9,326.8 L148.8,326.3 L149.6,325.7 L150.4,325.2 L151.2,324.6 L152.0,324.0 L152.8,323.4 L153.6,322.8 L154.4,322.2 L155.2,321.6 L156.0,320.9 L156.8,320.3 L157.5,319.6 L158.3,319.0 L159.0,318.3 L159.8,317.7 L160.6,317.0 L161.3,316.3 L162.0,315.7 L162.8,315.0 L163.5,314.3 L164.3,313.6 L165.0,312.9 L165.7,312.2 L166.4,311.5 L167.1,310.8 L167.8,310.1 L168.5,309.4 L169.2,308.7 L169.8,307.9 L170.5,307.2 L171.2,306.4 L171.8,305.7 L172.5,304.9 L173.1,304.2 L173.8,303.4 L174.4,302.6 L175.1,301.9 L175.7,301.1 L176.4,300.3 L177.0,299.6 L177.7,298.8 L178.3,298.0 L178.9,297.3 L179.6,296.5 L180.2,295.7 L180.8,294.9 L181.4,294.1 L182.0,293.3 L182.6,292.5 L183.1,291.7 L183.7,290.8 L184.2,290.0 L184.7,289.1 L185.2,288.3 L185.7,287.4 L186.2,286.5 L186.6,285.6 L187.1,284.7 L187.6,283.8 L188.0,283.0 L188.5,282.1 L189.0,281.2 L189.4,280.3 L189.9,279.4 L190.4,278.5 L190.8,277.6 L191.3,276.7 L191.7,275.9 L192.2,275.0 L192.7,274.1 L193.1,273.2 L193.6,272.3 L194.0,271.4 L194.5,270.5 L195.0,269.7 L195.4,268.8 L195.9,267.9 L196.4,267.0 L196.8,266.1 L197.3,265.2 L197.8,264.3 L198.2,263.5 L198.7,262.6 L199.1,261.7 L199.6,260.8 L200.1,259.9 L200.5,259.0 L201.0,258.1 L201.4,257.2 L201.9,256.3 L202.3,255.4 L202.7,254.5 L203.2,253.6 L203.6,252.7 L204.1,251.8 L204.5,251.0 L205.0,250.1 L205.4,249.2 L205.9,248.3 L206.3,247.4 L206.8,246.5 L207.2,245.6 L207.7,244.7 L208.1,243.8 L208.6,242.9 L209.0,242.0 L209.4,241.1 L209.9,240.2 L210.3,239.3 L210.8,238.4 L211.2,237.5 L211.6,236.6 L212.1,235.7 L212.5,234.8 L212.9,233.9 L213.4,233.0 L213.8,232.1 L214.2,231.2 L214.6,230.3 L215.0,229.4 L215.4,228.5 L215.8,227.5 L216.2,226.6 L216.6,225.7 L217.1,224.8 L217.5,223.9 L217.9,223.0 L218.3,222.1 L218.8,221.2 L219.2,220.3 L219.7,219.4 L220.2,218.5 L220.7,217.7 L221.2,216.8 L221.7,215.9 L222.2,215.1 L222.7,214.2 L223.2,213.3 L223.7,212.5 L224.3,211.7 L224.8,210.8 L225.4,210.0 L226.0,209.2 L226.7,208.5 L227.4,207.8 L228.2,207.1 L229.0,206.6 L229.9,206.1 L230.9,205.7 L231.9,205.5 L232.9,205.5 L233.8,205.7 L234.8,206.0 L235.7,206.4 L236.6,206.8 L237.5,207.4 L238.3,208.0 L239.1,208.6 L239.8,209.3 L240.5,210.0 L241.1,210.8 L241.7,211.6 L242.3,212.4 L242.8,213.3 L243.3,214.2 L243.8,215.0 L244.3,215.9 L244.8,216.8 L245.3,217.7 L245.7,218.5 L246.2,219.4 L246.7,220.3 L247.1,221.2 L247.5,222.1 L248.0,223.0 L248.4,223.9 L248.8,224.8 L249.2,225.7 L249.6,226.6 L250.1,227.5 L250.5,228.4 L250.9,229.4 L251.4,230.2 L251.8,231.1 L252.3,232.0 L252.8,232.9 L253.2,233.8 L253.7,234.7 L254.2,235.5 L254.7,236.4 L255.2,237.3 L255.6,238.2 L256.1,239.0 L256.6,239.9 L257.1,240.8 L257.6,241.7 L258.1,242.5 L258.6,243.4 L259.1,244.3 L259.6,245.1 L260.1,246.0 L260.6,246.9 L261.1,247.7 L261.6,248.6 L262.1,249.4 L262.7,250.3 L263.2,251.1 L263.7,252.0 L264.3,252.8 L264.8,253.6 L265.4,254.5 L265.9,255.3 L266.5,256.1 L267.1,257.0 L267.7,257.8 L268.2,258.6 L268.8,259.4 L269.4,260.2 L270.0,261.0 L270.6,261.8 L271.2,262.6 L271.8,263.4 L272.5,264.2 L273.1,265.0 L273.7,265.7 L274.4,266.5 L275.0,267.3 L275.7,268.0 L276.3,268.8 L277.0,269.5 L277.7,270.2 L278.4,270.9 L279.1,271.6 L279.8,272.3 L280.6,273.0 L281.3,273.7 L282.0,274.4 L282.8,275.0 L283.5,275.7 L284.3,276.3 L285.1,276.9 L285.9,277.6 L286.7,278.2 L287.5,278.8 L288.3,279.3 L289.2,279.9 L290.0,280.5 L290.8,281.0 L291.7,281.5 L292.6,282.0 L293.4,282.5 L294.3,283.0 L295.2,283.4 L296.1,283.9 L297.0,284.3 L297.9,284.7 L298.9,285.1 L299.8,285.4 L300.7,285.7 L301.7,286.0 L302.7,286.3 L303.6,286.6 L304.6,286.8 L305.6,287.1 L306.6,287.3 L307.5,287.5 L308.5,287.7 L309.5,287.9 L310.5,288.0 L311.5,288.2 L312.5,288.3 L313.5,288.4 L314.5,288.4 L315.5,288.5 L316.5,288.5 L317.5,288.5 L318.5,288.5 L319.5,288.4 L320.5,288.3 L321.5,288.2 L322.5,288.1 L323.5,287.9 L324.4,287.7 L325.4,287.5 L326.4,287.3 L327.4,287.0 L328.3,286.8 L329.3,286.5 L330.2,286.1 L331.2,285.8 L332.1,285.5 L333.1,285.1 L334.0,284.7 L334.9,284.3 L335.8,283.9 L336.7,283.4 L337.6,283.0 L338.5,282.5 L339.4,282.0 L340.2,281.5 L341.1,281.0 L341.9,280.5 L342.8,279.9 L343.6,279.4 L344.4,278.8 L345.2,278.2 L346.1,277.6 L346.9,277.0 L347.6,276.4 L348.4,275.8 L349.2,275.1 L349.9,274.5 L350.7,273.8 L351.4,273.1 L352.1,272.4 L352.9,271.7 L353.6,271.0 L354.3,270.3 L355.0,269.6 L355.6,268.8 L356.3,268.1 L357.0,267.3 L357.6,266.6 L358.3,265.8 L358.9,265.0 L359.5,264.2 L360.1,263.4 L360.7,262.6 L361.3,261.8 L361.9,261.0 L362.5,260.2 L363.1,259.4 L363.6,258.6 L364.2,257.7 L364.8,256.9 L365.3,256.1 L365.8,255.2 L366.4,254.4 L366.9,253.5 L367.4,252.7 L367.9,251.8 L368.4,251.0 L368.9,250.1 L369.4,249.2 L369.9,248.4 L370.4,247.5 L370.9,246.6 L371.4,245.7 L371.9,244.8 L372.3,244.0 L372.8,243.1 L373.3,242.2 L373.8,241.3 L374.2,240.4 L374.7,239.5 L375.1,238.7 L375.6,237.8 L376.1,236.9 L376.5,236.0 L377.0,235.1 L377.4,234.2 L377.9,233.3 L378.3,232.4 L378.8,231.5 L379.2,230.6 L379.7,229.7 L380.1,228.8 L380.6,227.9 L381.0,227.0 L381.4,226.1 L381.9,225.2 L382.3,224.3 L382.7,223.4 L383.1,222.5 L383.6,221.6 L384.0,220.7 L384.4,219.8 L384.8,218.9 L385.3,218.0 L385.7,217.1 L386.1,216.2 L386.5,215.3 L386.9,214.4 L387.3,213.5 L387.7,212.5 L388.1,211.6 L388.6,210.7 L389.0,209.8 L389.4,208.9 L389.8,208.0 L390.2,207.1 L390.6,206.2 L391.0,205.2 L391.4,204.3 L391.8,203.4 L392.3,202.5 L392.7,201.6 L393.1,200.7 L393.5,199.8 L394.0,198.9 L394.4,198.0 L394.8,197.1 L395.3,196.2 L395.7,195.3 L396.2,194.4 L396.7,193.5 L397.1,192.6 L397.6,191.8 L398.1,190.9 L398.6,190.0 L399.1,189.2 L399.6,188.3 L400.1,187.5 L400.7,186.6 L401.3,185.8 L401.8,185.0 L402.5,184.2 L403.1,183.4 L403.8,182.6 L404.5,181.9 L405.3,181.3 L406.2,180.9 L407.1,180.6 L408.1,180.5 L409.1,180.6 L410.1,181.0 L411.0,181.4 L411.8,182.0 L412.6,182.6 L413.3,183.3 L414.0,184.0 L414.7,184.8 L415.3,185.6 L415.9,186.4 L416.4,187.2 L416.9,188.1 L417.5,188.9 L417.9,189.8 L418.4,190.7 L418.9,191.6 L419.4,192.5 L419.8,193.4 L420.3,194.3 L420.7,195.2 L421.2,196.1 L421.6,197.0 L422.1,197.9 L422.5,198.8 L423.0,199.7 L423.4,200.6 L423.9,201.5 L424.3,202.3 L424.8,203.2 L425.2,204.1 L425.6,205.0 L426.1,205.9 L426.5,206.8 L427.0,207.7 L427.4,208.6 L427.9,209.5 L428.3,210.4 L428.8,211.3 L429.2,212.2 L429.6,213.1 L430.1,214.0 L430.5,214.9 L431.0,215.8 L431.4,216.7 L431.9,217.5 L432.3,218.4 L432.8,219.3 L433.2,220.2 L433.7,221.1 L434.1,222.0 L434.6,222.9 L435.0,223.8 L435.5,224.7 L435.9,225.6 L436.4,226.5 L436.9,227.4 L437.3,228.2 L437.8,229.1 L438.3,230.0 L438.7,230.9 L439.2,231.8 L439.7,232.7 L440.2,233.5 L440.7,234.4 L441.2,235.3 L441.7,236.1 L442.2,237.0 L442.7,237.8 L443.2,238.7 L443.8,239.5 L444.3,240.4 L444.8,241.2 L445.4,242.1 L445.9,242.9 L446.5,243.7 L447.1,244.5 L447.6,245.4 L448.2,246.2 L448.8,247.0 L449.3,247.8 L449.9,248.6 L450.5,249.5 L451.1,250.3 L451.7,251.1 L452.3,251.9 L452.9,252.7 L453.5,253.5 L454.1,254.3 L454.7,255.1 L455.4,255.8 L456.0,256.6 L456.7,257.3 L457.3,258.1 L458.0,258.8 L458.7,259.5 L459.5,260.2 L460.2,260.9 L460.9,261.6 L461.7,262.2 L462.5,262.9 L463.2,263.5 L464.0,264.1 L464.8,264.7 L465.7,265.3 L466.5,265.8 L467.3,266.4 L468.2,266.9 L469.1,267.4 L469.9,267.9 L470.8,268.4 L471.7,268.9 L472.6,269.3 L473.5,269.7 L474.4,270.1 L475.4,270.5 L476.3,270.8 L477.2,271.2 L478.2,271.5 L479.2,271.7 L480.1,272.0 L481.1,272.2 L482.1,272.4 L483.1,272.6 L484.0,272.8 L485.0,273.0 L486.0,273.2 L487.0,273.3 L488.0,273.5 L489.0,273.6 L490.0,273.7 L491.0,273.8 L492.0,273.9 L493.0,274.0 L494.0,274.0 L495.0,274.0 L496.0,274.0 L497.0,273.9 L498.0,273.9 L499.0,273.8 L500.0,273.6 L501.0,273.4 L502.0,273.2 L503.0,273.0 L503.9,272.7 L504.9,272.4 L505.8,272.0 L506.7,271.6 L507.6,271.1 L508.5,270.6 L509.3,270.1 L510.2,269.6 L511.0,269.1 L511.9,268.5 L512.7,267.9 L513.5,267.4 L514.3,266.8 L515.2,266.2 L516.0,265.6 L516.8,265.0 L517.6,264.4 L518.4,263.8 L519.2,263.3 L520.0,262.7 L520.8,262.1 L521.6,261.5 L522.4,260.9 L523.2,260.3 L524.0,259.7 L524.9,259.2 L525.7,258.6 L526.5,258.0 L527.3,257.4 L528.1,256.8 L528.9,256.2 L529.6,255.5 L530.3,254.8 L531.0,254.0 L531.6,253.2 L532.1,252.4 L532.7,251.6 L533.2,250.7 L533.7,249.8 L534.2,249.0 L534.7,248.1 L535.2,247.2 L535.6,246.3 L536.1,245.4 L536.6,244.5 L537.1,243.6 L537.5,242.8 L538.0,241.9 L538.5,241.0 L539.0,240.1 L539.4,239.3 L539.9,238.4 L540.4,237.5 L540.8,236.6 L541.3,235.7 L541.8,234.8 L542.2,233.9 L542.7,233.1 L543.1,232.2 L543.6,231.3 L544.0,230.4 L544.5,229.5 L544.9,228.6 L545.4,227.7 L545.8,226.8 L546.3,225.9 L546.7,225.0 L547.2,224.1 L547.6,223.2 L548.0,222.3 L548.4,221.4 L548.9,220.5 L549.3,219.6 L549.7,218.7 L550.1,217.8 L550.5,216.9 L550.9,216.0 L551.4,215.0 L551.8,214.1 L552.2,213.2 L552.6,212.3 L553.0,211.4 L553.4,210.5 L553.8,209.6 L554.2,208.6 L554.6,207.7 L555.0,206.8 L555.5,205.9 L555.9,205.0 L556.3,204.1 L556.7,203.2 L557.1,202.3 L557.5,201.4 L557.9,200.5 L558.3,199.5 L558.7,198.6 L559.1,197.7 L559.4,196.7 L559.8,195.8 L560.1,194.9 L560.4,193.9 L560.8,193.0 L561.1,192.0 L561.5,191.1 L561.8,190.2 L562.2,189.2 L562.5,188.3 L562.9,187.4 L563.2,186.4 L563.6,185.5 L564.0,184.6 L564.3,183.6 L564.7,182.7 L565.0,181.8 L565.4,180.8 L565.8,179.9 L566.1,179.0 L566.5,178.0 L566.8,177.1 L567.2,176.1 L567.5,175.2 L567.9,174.3 L568.2,173.3 L568.6,172.4 L568.9,171.5 L569.3,170.5 L569.6,169.6 L570.0,168.7 L570.3,167.7 L570.6,166.8 L571.0,165.8 L571.3,164.9 L571.7,163.9 L572.0,163.0 L572.3,162.1 L572.7,161.1 L573.0,160.2 L573.4,159.3 L573.8,158.3 L574.1,157.4 L574.5,156.5 L574.9,155.6 L575.3,154.6 L575.7,153.7 L576.1,152.8 L576.5,151.9 L576.9,151.0 L577.3,150.0 L577.7,149.1 L578.1,148.2 L578.6,147.3 L579.1,146.5 L579.7,145.6 L580.3,144.9 L581.0,144.2 L581.7,143.5 L582.6,142.9 L583.5,142.5 L584.5,142.4 L585.4,142.7 L586.3,143.2 L587.2,143.8 L587.9,144.5 L588.5,145.2 L589.0,146.1 L589.5,147.0 L590.0,147.9 L590.4,148.8 L590.8,149.7 L591.2,150.6 L591.6,151.6 L592.0,152.5 L592.3,153.4 L592.7,154.3 L593.0,155.3 L593.3,156.2 L593.7,157.2 L594.0,158.1 L594.3,159.1 L594.7,160.0 L595.0,160.9 L595.4,161.9 L595.7,162.8 L596.1,163.8 L596.4,164.7 L596.8,165.6 L597.1,166.6 L597.4,167.5 L597.8,168.5 L598.1,169.4 L598.4,170.4 L598.7,171.3 L599.0,172.2 L599.3,173.2 L599.7,174.1 L600.0,175.1 L600.3,176.1 L600.6,177.0 L600.9,178.0 L601.2,178.9 L601.5,179.9 L601.8,180.8 L602.2,181.8 L602.5,182.7 L602.8,183.6 L603.1,184.6 L603.4,185.5 L603.8,186.5 L604.1,187.4 L604.4,188.4 L604.8,189.3 L605.1,190.3 L605.4,191.2 L605.8,192.1 L606.1,193.1 L606.5,194.0 L606.8,195.0 L607.1,195.9 L607.5,196.8 L607.8,197.8 L608.2,198.7 L608.5,199.7 L608.8,200.6 L609.2,201.5 L609.5,202.5 L609.9,203.4 L610.2,204.4 L610.5,205.3 L610.9,206.2 L611.2,207.2 L611.6,208.1 L611.9,209.1 L612.3,210.0 L612.6,210.9 L613.0,211.9 L613.4,212.8 L613.7,213.7 L614.1,214.7 L614.5,215.6 L614.9,216.5 L615.2,217.4 L615.6,218.3 L616.0,219.3 L616.4,220.2 L616.8,221.1 L617.2,222.0 L617.7,222.9 L618.1,223.8 L618.5,224.7 L618.9,225.6 L619.4,226.5 L619.8,227.4 L620.3,228.3 L620.7,229.2 L621.2,230.1 L621.7,231.0 L622.1,231.9 L622.6,232.8 L623.1,233.6 L623.6,234.5 L624.1,235.4 L624.6,236.3 L625.1,237.1 L625.6,238.0 L626.1,238.8 L626.7,239.7 L627.2,240.5 L627.8,241.3 L628.3,242.2 L628.9,243.0 L629.5,243.8 L630.1,244.6 L630.7,245.3 L631.3,246.1 L632.0,246.9 L632.6,247.6 L633.3,248.4 L633.9,249.2 L634.6,249.9 L635.3,250.7 L635.9,251.4 L636.6,252.2 L637.3,252.9 L637.9,253.7 L638.6,254.4 L639.3,255.2 L640.0,255.9 L640.6,256.7 L641.3,257.4 L642.0,258.2 L642.7,258.9 L643.4,259.6 L644.2,260.3 L644.9,261.0 L645.6,261.6 L646.4,262.2 L647.2,262.8 L648.0,263.4 L648.8,264.0 L649.7,264.5 L650.5,264.9 L651.4,265.4 L652.3,265.8 L653.3,266.2 L654.2,266.6 L655.1,266.9 L656.1,267.3 L657.1,267.6 L658.0,267.9 L659.0,268.1 L660.0,268.4 L661.0,268.6 L662.0,268.9 L663.0,269.1 L664.0,269.2 L665.0,269.4 L666.0,269.5 L666.9,269.5 L667.9,269.6 L668.9,269.5 L669.9,269.5 L670.9,269.4 L671.9,269.2 L672.9,269.1 L673.9,268.8 L674.8,268.6 L675.8,268.3 L676.8,268.0 L677.7,267.6 L678.6,267.3 L679.6,266.9 L680.5,266.5 L681.4,266.0 L682.3,265.6 L683.2,265.1 L684.1,264.7 L685.0,264.2 L685.9,263.7 L686.7,263.1 L687.6,262.6 L688.4,262.0 L689.2,261.4 L690.0,260.8 L690.8,260.2 L691.5,259.6 L692.3,258.9 L693.0,258.2 L693.7,257.5 L694.4,256.8 L695.1,256.1 L695.8,255.3 L696.4,254.6 L697.1,253.8 L697.7,253.0 L698.3,252.3 L699.0,251.5 L699.6,250.7 L700.2,249.9 L700.8,249.1 L701.4,248.2 L702.0,247.4 L702.5,246.6 L703.1,245.8 L703.7,245.0 L704.3,244.1 L704.8,243.3 L705.4,242.5 L705.9,241.6 L706.4,240.8 L707.0,239.9 L707.5,239.1 L708.0,238.2 L708.5,237.3 L709.0,236.5 L709.4,235.6 L709.9,234.7 L710.4,233.8 L710.8,232.9 L711.2,232.0 L711.7,231.1 L712.1,230.2 L712.5,229.3 L712.9,228.4 L713.3,227.5 L713.7,226.6 L714.1,225.6 L714.5,224.7 L714.9,223.8 L715.2,222.9 L715.6,221.9 L716.0,221.0 L716.4,220.1 L716.7,219.1 L717.1,218.2 L717.5,217.3 L717.9,216.4 L718.2,215.4 L718.6,214.5 L719.0,213.6 L719.4,212.7 L719.8,211.7 L720.2,210.8 L720.3,210.5" stroke="#ff4dff" stroke-width="5.1" stroke-dasharray="7 2.2"/>
<path d="M118.6,340.6 L119.6,340.5 L120.6,340.5 L121.6,340.4 L122.6,340.3 L123.6,340.3 L124.6,340.2 L125.6,340.1 L126.6,340.0 L127.6,339.9 L128.6,339.7 L129.6,339.6 L130.5,339.5 L131.5,339.3 L132.5,339.2 L133.5,339.0 L134.5,338.9 L135.5,338.7 L136.5,338.5 L137.5,338.4 L138.4,338.2 L139.4,338.0 L140.4,337.8 L141.4,337.6 L142.4,337.4 L143.3,337.2 L144.3,337.0 L145.3,336.8 L146.3,336.6 L147.3,336.4 L148.2,336.2 L149.2,335.9 L150.2,335.7 L151.2,335.5 L152.1,335.3 L153.1,335.1 L154.1,334.8 L155.1,334.6 L156.0,334.3 L157.0,334.1 L158.0,333.8 L158.9,333.5 L159.9,333.3 L160.8,333.0 L161.8,332.7 L162.7,332.3 L163.7,332.0 L164.6,331.7 L165.5,331.3 L166.5,331.0 L167.4,330.6 L168.4,330.3 L169.3,329.9 L170.2,329.5 L171.1,329.1 L172.1,328.8 L173.0,328.4 L173.9,328.0 L174.9,327.6 L175.8,327.2 L176.7,326.8 L177.6,326.4 L178.5,325.9 L179.4,325.5 L180.3,325.0 L181.1,324.5 L182.0,324.0 L182.8,323.4 L183.6,322.8 L184.4,322.2 L185.2,321.6 L186.0,321.0 L186.7,320.3 L187.5,319.6 L188.2,318.9 L188.9,318.3 L189.7,317.6 L190.4,316.9 L191.1,316.2 L191.8,315.5 L192.6,314.8 L193.3,314.1 L194.0,313.4 L194.7,312.7 L195.5,312.1 L196.2,311.4 L196.9,310.7 L197.7,310.0 L198.4,309.4 L199.2,308.7 L199.9,308.1 L200.7,307.4 L201.4,306.8 L202.2,306.1 L203.0,305.5 L203.7,304.8 L204.5,304.2 L205.3,303.5 L206.0,302.9 L206.8,302.2 L207.6,301.6 L208.4,301.0 L209.2,300.4 L210.0,299.8 L210.8,299.3 L211.7,298.7 L212.5,298.2 L213.4,297.8 L214.3,297.3 L215.3,297.0 L216.2,296.6 L217.2,296.3 L218.1,296.0 L219.1,295.8 L220.1,295.7 L221.1,295.8 L222.1,295.9 L223.1,296.1 L224.1,296.3 L225.0,296.6 L226.0,296.8 L227.0,297.1 L227.9,297.4 L228.9,297.8 L229.8,298.2 L230.7,298.6 L231.6,299.0 L232.5,299.5 L233.3,300.0 L234.2,300.5 L235.0,301.0 L235.9,301.6 L236.7,302.1 L237.6,302.7 L238.4,303.2 L239.2,303.8 L240.0,304.5 L240.7,305.1 L241.4,305.8 L242.1,306.6 L242.7,307.3 L243.4,308.1 L244.0,308.9 L244.6,309.6 L245.2,310.5 L245.8,311.3 L246.4,312.1 L247.0,312.9 L247.6,313.7 L248.3,314.5 L248.9,315.3 L249.5,316.0 L250.2,316.8 L250.8,317.6 L251.5,318.3 L252.1,319.1 L252.7,319.8 L253.4,320.6 L254.0,321.4 L254.7,322.1 L255.3,322.9 L256.0,323.7 L256.6,324.4 L257.2,325.2 L257.8,326.0 L258.5,326.8 L259.1,327.6 L259.7,328.3 L260.3,329.1 L261.0,329.9 L261.6,330.7 L262.2,331.5 L262.8,332.3 L263.4,333.1 L264.1,333.8 L264.7,334.6 L265.3,335.4 L266.0,336.2 L266.6,336.9 L267.2,337.7 L267.9,338.5 L268.5,339.2 L269.2,340.0 L269.9,340.7 L270.5,341.4 L271.2,342.2 L271.9,342.9 L272.6,343.6 L273.3,344.3 L274.0,345.0 L274.8,345.7 L275.5,346.4 L276.3,347.1 L277.0,347.7 L277.8,348.4 L278.6,349.0 L279.4,349.6 L280.2,350.1 L281.0,350.7 L281.9,351.2 L282.7,351.7 L283.6,352.2 L284.5,352.7 L285.4,353.1 L286.3,353.5 L287.3,353.9 L288.2,354.3 L289.1,354.6 L290.1,355.0 L291.1,355.3 L292.0,355.5 L293.0,355.8 L294.0,356.0 L295.0,356.1 L296.0,356.2 L297.0,356.3 L298.0,356.2 L299.0,356.1 L300.0,356.0 L301.0,355.8 L301.9,355.6 L302.9,355.2 L303.9,354.9 L304.8,354.5 L305.7,354.0 L306.6,353.6 L307.4,353.0 L308.3,352.5 L309.1,351.9 L309.9,351.3 L310.6,350.6 L311.4,349.9 L312.1,349.2 L312.8,348.5 L313.5,347.8 L314.2,347.1 L314.9,346.4 L315.6,345.6 L316.3,344.9 L316.9,344.1 L317.6,343.4 L318.3,342.6 L319.0,341.9 L319.6,341.2 L320.3,340.4 L320.9,339.7 L321.6,338.9 L322.3,338.2 L322.9,337.4 L323.6,336.7 L324.2,335.9 L324.9,335.1 L325.5,334.4 L326.2,333.6 L326.8,332.9 L327.5,332.1 L328.2,331.4 L328.8,330.6 L329.5,329.9 L330.1,329.1 L330.8,328.4 L331.5,327.6 L332.1,326.9 L332.8,326.2 L333.5,325.4 L334.2,324.7 L334.8,323.9 L335.5,323.2 L336.2,322.5 L336.9,321.7 L337.6,321.0 L338.3,320.3 L339.0,319.6 L339.7,318.8 L340.4,318.1 L341.1,317.4 L341.8,316.7 L342.5,316.0 L343.2,315.4 L344.0,314.7 L344.7,314.0 L345.5,313.3 L346.2,312.7 L347.0,312.0 L347.8,311.4 L348.5,310.8 L349.3,310.2 L350.1,309.6 L350.9,309.0 L351.7,308.4 L352.6,307.8 L353.4,307.3 L354.2,306.7 L355.1,306.2 L356.0,305.7 L356.8,305.2 L357.7,304.7 L358.6,304.2 L359.5,303.8 L360.4,303.3 L361.3,302.9 L362.2,302.5 L363.2,302.2 L364.1,301.8 L365.0,301.5 L366.0,301.2 L367.0,300.9 L367.9,300.7 L368.9,300.4 L369.9,300.2 L370.9,300.0 L371.8,299.9 L372.8,299.7 L373.8,299.6 L374.8,299.5 L375.8,299.5 L376.8,299.5 L377.8,299.6 L378.8,299.7 L379.8,299.8 L380.8,300.0 L381.8,300.2 L382.8,300.4 L383.7,300.6 L384.7,300.9 L385.7,301.2 L386.6,301.6 L387.5,302.0 L388.4,302.5 L389.3,302.9 L390.1,303.5 L390.9,304.0 L391.7,304.6 L392.5,305.3 L393.3,305.9 L394.1,306.6 L394.8,307.3 L395.5,308.0 L396.2,308.7 L396.9,309.5 L397.5,310.2 L398.2,311.0 L398.9,311.7 L399.5,312.5 L400.1,313.3 L400.7,314.0 L401.4,314.8 L402.0,315.6 L402.6,316.4 L403.2,317.2 L403.9,318.0 L404.5,318.7 L405.1,319.5 L405.7,320.3 L406.4,321.1 L407.0,321.8 L407.7,322.6 L408.4,323.3 L409.1,324.0 L409.8,324.8 L410.5,325.5 L411.2,326.1 L411.9,326.8 L412.7,327.5 L413.4,328.1 L414.2,328.8 L415.0,329.4 L415.8,330.0 L416.6,330.6 L417.4,331.2 L418.2,331.8 L419.1,332.3 L419.9,332.9 L420.7,333.4 L421.6,333.9 L422.5,334.5 L423.3,334.9 L424.2,335.4 L425.1,335.9 L426.0,336.3 L426.9,336.7 L427.8,337.1 L428.8,337.5 L429.7,337.9 L430.6,338.2 L431.6,338.5 L432.5,338.9 L433.5,339.2 L434.4,339.4 L435.4,339.7 L436.4,340.0 L437.3,340.3 L438.3,340.5 L439.3,340.8 L440.2,341.0 L441.2,341.3 L442.2,341.5 L443.1,341.8 L444.1,342.0 L445.1,342.3 L446.0,342.6 L447.0,342.9 L447.9,343.1 L448.9,343.4 L449.9,343.7 L450.8,344.0 L451.8,344.3 L452.7,344.6 L453.7,344.9 L454.6,345.3 L455.6,345.6 L456.5,345.9 L457.5,346.2 L458.4,346.6 L459.3,346.9 L460.3,347.2 L461.2,347.5 L462.2,347.8 L463.1,348.2 L464.1,348.5 L465.0,348.8 L466.0,349.1 L467.0,349.3 L467.9,349.6 L468.9,349.9 L469.9,350.1 L470.8,350.4 L471.8,350.6 L472.8,350.8 L473.7,351.0 L474.7,351.2 L475.7,351.4 L476.7,351.6 L477.7,351.8 L478.7,351.9 L479.7,352.1 L480.7,352.2 L481.7,352.3 L482.7,352.4 L483.7,352.5 L484.7,352.5 L485.7,352.5 L486.7,352.5 L487.7,352.5 L488.7,352.4 L489.6,352.3 L490.6,352.2 L491.6,352.1 L492.6,351.9 L493.6,351.8 L494.6,351.6 L495.6,351.4 L496.6,351.2 L497.6,351.0 L498.5,350.8 L499.5,350.6 L500.5,350.3 L501.4,350.0 L502.4,349.8 L503.4,349.4 L504.3,349.1 L505.2,348.7 L506.1,348.3 L507.0,347.8 L507.9,347.3 L508.7,346.8 L509.6,346.2 L510.4,345.6 L511.1,344.9 L511.9,344.2 L512.6,343.5 L513.2,342.8 L513.9,342.0 L514.5,341.2 L515.1,340.4 L515.6,339.6 L516.2,338.7 L516.7,337.9 L517.3,337.1 L517.8,336.2 L518.4,335.4 L518.9,334.5 L519.5,333.7 L520.0,332.8 L520.5,332.0 L521.0,331.1 L521.5,330.3 L522.0,329.4 L522.5,328.6 L523.0,327.7 L523.5,326.8 L524.0,325.9 L524.4,325.0 L524.9,324.2 L525.4,323.3 L525.8,322.4 L526.3,321.5 L526.7,320.6 L527.2,319.7 L527.6,318.8 L528.1,317.9 L528.5,317.0 L528.9,316.1 L529.4,315.2 L529.8,314.3 L530.3,313.4 L530.7,312.5 L531.1,311.6 L531.5,310.7 L532.0,309.8 L532.4,308.9 L532.8,308.0 L533.2,307.1 L533.6,306.1 L534.0,305.2 L534.4,304.3 L534.8,303.4 L535.1,302.4 L535.5,301.5 L535.9,300.6 L536.2,299.7 L536.6,298.7 L537.0,297.8 L537.4,296.9 L537.7,295.9 L538.1,295.0 L538.5,294.1 L538.8,293.2 L539.2,292.2 L539.6,291.3 L539.9,290.4 L540.3,289.4 L540.7,288.5 L541.0,287.6 L541.4,286.6 L541.7,285.7 L542.1,284.8 L542.4,283.8 L542.8,282.9 L543.1,281.9 L543.4,281.0 L543.8,280.0 L544.1,279.1 L544.4,278.2 L544.7,277.2 L545.1,276.3 L545.4,275.3 L545.7,274.4 L546.0,273.4 L546.4,272.5 L546.7,271.5 L547.0,270.6 L547.3,269.6 L547.7,268.7 L548.0,267.8 L548.3,266.8 L548.6,265.9 L549.0,264.9 L549.3,264.0 L549.6,263.0 L550.0,262.1 L550.3,261.1 L550.6,260.2 L551.0,259.3 L551.3,258.3 L551.7,257.4 L552.0,256.5 L552.4,255.5 L552.8,254.6 L553.1,253.7 L553.5,252.7 L553.9,251.8 L554.3,250.9 L554.7,250.0 L555.1,249.1 L555.6,248.2 L556.0,247.3 L556.5,246.4 L557.0,245.6 L557.6,244.7 L558.1,243.9 L558.7,243.1 L559.3,242.3 L560.0,241.5 L560.7,240.8 L561.4,240.1 L562.2,239.5 L563.0,238.9 L563.9,238.4 L564.8,237.9 L565.7,237.5 L566.7,237.3 L567.7,237.1 L568.7,237.1 L569.7,237.2 L570.6,237.4 L571.6,237.7 L572.5,238.1 L573.5,238.6 L574.4,239.1 L575.3,239.7 L576.1,240.2 L576.9,240.8 L577.7,241.4 L578.5,242.0 L579.3,242.7 L580.1,243.3 L580.8,244.0 L581.5,244.6 L582.3,245.3 L583.0,246.0 L583.7,246.6 L584.5,247.3 L585.2,248.0 L585.9,248.7 L586.6,249.4 L587.4,250.1 L588.1,250.7 L588.9,251.4 L589.6,252.1 L590.4,252.7 L591.1,253.4 L591.9,254.0 L592.7,254.7 L593.4,255.3 L594.2,255.9 L595.0,256.5 L595.8,257.1 L596.6,257.7 L597.5,258.3 L598.3,258.8 L599.1,259.4 L599.9,260.0 L600.8,260.5 L601.6,261.1 L602.5,261.6 L603.3,262.1 L604.2,262.6 L605.1,263.1 L606.0,263.5 L606.9,264.0 L607.8,264.4 L608.7,264.7 L609.7,265.1 L610.6,265.4 L611.6,265.6 L612.5,265.9 L613.5,266.1 L614.5,266.3 L615.5,266.4 L616.5,266.5 L617.5,266.6 L618.6,266.7 L619.6,266.7 L620.6,266.7 L621.6,266.6 L622.6,266.5 L623.6,266.4 L624.6,266.2 L625.6,266.0 L626.5,265.7 L627.5,265.3 L628.4,264.9 L629.2,264.4 L630.1,263.9 L630.9,263.4 L631.7,262.8 L632.5,262.1 L633.2,261.5 L634.0,260.8 L634.7,260.1 L635.5,259.3 L636.2,258.6 L636.9,257.9 L637.5,257.1 L638.2,256.4 L638.9,255.6 L639.6,254.9 L640.2,254.1 L640.8,253.4 L641.5,252.6 L642.1,251.8 L642.7,251.0 L643.3,250.2 L643.9,249.4 L644.5,248.6 L645.1,247.8 L645.6,247.0 L646.2,246.2 L646.8,245.3 L647.3,244.5 L647.9,243.7 L648.4,242.8 L649.0,242.0 L649.5,241.1 L650.0,240.3 L650.6,239.4 L651.1,238.6 L651.6,237.7 L652.2,236.9 L652.7,236.1 L653.2,235.2 L653.8,234.4 L654.3,233.5 L654.8,232.6 L655.3,231.8 L655.8,230.9 L656.3,230.1 L656.8,229.2 L657.3,228.3 L657.8,227.5 L658.3,226.6 L658.8,225.7 L659.3,224.8 L659.7,224.0 L660.2,223.1 L660.6,222.2 L661.0,221.3 L661.5,220.4 L661.9,219.5 L662.3,218.5 L662.7,217.6 L663.1,216.7 L663.5,215.8 L663.9,214.9 L664.3,214.0 L664.7,213.0 L665.1,212.1 L665.5,211.2 L665.9,210.3 L666.3,209.3 L666.6,208.4 L667.0,207.5 L667.4,206.6 L667.8,205.6 L668.1,204.7 L668.5,203.8 L668.9,202.8 L669.2,201.9 L669.6,201.0 L670.0,200.1 L670.3,199.1 L670.7,198.2 L671.1,197.3 L671.4,196.3 L671.8,195.4 L672.2,194.5 L672.6,193.6 L672.9,192.6 L673.3,191.7 L673.7,190.8 L674.1,189.9 L674.5,188.9 L674.9,188.0 L675.3,187.1 L675.7,186.2 L676.0,185.3 L676.4,184.3 L676.8,183.4 L677.2,182.5 L677.6,181.6 L678.0,180.7 L678.4,179.7 L678.8,178.8 L679.2,177.9 L679.6,177.0 L680.0,176.1 L680.3,175.1 L680.7,174.2 L681.1,173.3 L681.5,172.3 L681.8,171.4 L682.2,170.5 L682.5,169.5 L682.9,168.6 L683.2,167.7 L683.6,166.7 L684.0,165.8 L684.3,164.9 L684.7,163.9 L685.0,163.0 L685.4,162.1 L685.8,161.1 L686.1,160.2 L686.5,159.3 L686.9,158.4 L687.3,157.4 L687.7,156.5 L688.1,155.6 L688.5,154.7 L688.9,153.8 L689.3,152.9 L689.7,152.0 L690.1,151.1 L690.5,150.1 L691.0,149.2 L691.4,148.3 L691.8,147.4 L692.2,146.5 L692.5,145.6 L692.9,144.6 L693.3,143.7 L693.6,142.8 L694.0,141.8 L694.4,140.9 L694.7,140.0 L695.0,139.0 L695.4,138.1 L695.7,137.1 L696.0,136.2 L696.3,135.2 L696.7,134.3 L697.0,133.3 L697.3,132.4 L697.6,131.4 L697.9,130.5 L698.2,129.5 L698.5,128.6 L698.8,127.6 L699.1,126.7 L699.4,125.7 L699.7,124.8 L700.0,123.8 L700.3,122.8 L700.6,121.9 L700.9,120.9 L701.2,120.0 L701.4,119.0 L701.7,118.1 L702.0,117.1 L702.3,116.1 L702.6,115.2 L702.8,114.2 L703.1,113.2 L703.4,112.3 L703.7,111.3 L703.9,110.4 L704.2,109.4 L704.5,108.4 L704.8,107.5 L705.1,106.5 L705.4,105.6 L705.7,104.6 L706.0,103.7 L706.3,102.7 L706.6,101.8 L707.0,100.8 L707.3,99.9 L707.6,99.0 L708.0,98.0 L708.4,97.1 L708.7,96.2 L709.1,95.2 L709.5,94.3 L709.9,93.4 L710.2,92.5 L710.6,91.5 L711.0,90.6 L711.4,89.7 L711.8,88.8 L712.1,87.8 L712.5,86.9 L712.8,86.0 L713.2,85.0 L713.5,84.1 L713.9,83.1 L714.2,82.2 L714.5,81.2 L714.8,80.3 L715.1,79.3 L715.4,78.4 L715.7,77.4 L715.9,76.4 L716.2,75.5 L716.4,74.5 L716.7,73.5 L716.9,72.6 L717.1,71.6 L717.3,70.6 L717.5,69.6 L717.7,68.6 L717.9,67.7 L718.0,66.7 L718.2,65.7 L718.4,64.7 L718.5,63.7 L718.7,62.7 L718.9,61.7 L719.0,60.7 L719.2,59.8 L719.3,58.8 L719.5,57.8 L719.7,56.8 L719.8,55.8 L720.0,54.8 L720.2,53.8 L720.3,53.0" stroke="#4d004d" stroke-width="5.1"/>
<path d="M118.6,343.9 L120.1,343.9 L121.6,343.9 L123.1,343.9 L124.6,343.9 L126.1,343.9 L127.6,343.9 L129.2,343.9 L130.7,343.9 L132.2,343.9 L133.7,343.9 L135.2,343.9 L136.7,343.9 L138.2,343.9 L139.7,343.9 L141.2,343.9 L142.7,343.9 L144.2,343.9 L145.7,343.9 L147.2,343.9 L148.8,343.9 L150.3,343.9 L151.8,343.9 L153.3,343.9 L154.8,343.9 L156.3,343.9 L157.8,343.9 L159.3,343.9 L160.8,343.9 L162.3,343.9 L163.8,343.9 L165.3,343.9 L166.9,343.9 L168.4,343.9 L169.9,343.9 L171.4,343.9 L172.9,343.9 L174.4,343.9 L175.9,343.9 L177.4,343.9 L178.9,343.9 L180.4,343.9 L181.9,343.9 L183.4,343.9 L185.0,343.9 L186.5,343.9 L188.0,343.9 L189.5,343.9 L191.0,343.9 L192.5,343.9 L194.0,343.9 L195.5,343.9 L197.0,343.9 L198.5,343.9 L200.0,343.9 L201.5,343.9 L203.0,343.9 L204.6,343.9 L206.1,343.9 L207.6,343.9 L209.1,343.9 L210.6,343.9 L212.1,343.9 L213.6,343.9 L215.1,343.9 L216.6,343.9 L218.1,343.9 L219.6,343.9 L221.1,343.9 L222.7,343.9 L224.2,343.9 L225.7,343.9 L227.2,343.9 L228.7,343.9 L230.2,343.9 L231.7,343.9 L233.2,343.9 L234.7,343.9 L236.2,343.9 L237.7,343.9 L239.2,343.9 L240.7,343.9 L242.3,343.9 L243.8,343.9 L245.3,343.9 L246.8,343.9 L248.3,343.9 L249.8,343.9 L251.3,343.9 L252.8,343.9 L254.3,343.9 L255.8,343.8 L257.3,343.8 L258.8,343.8 L260.4,343.8 L261.9,343.8 L263.4,343.8 L264.9,343.8 L266.4,343.8 L267.9,343.8 L269.4,343.8 L270.9,343.8 L272.4,343.8 L273.9,343.8 L275.4,343.8 L276.9,343.7 L278.4,343.7 L280.0,343.7 L281.5,343.7 L283.0,343.7 L284.5,343.7 L286.0,343.7 L287.5,343.7 L289.0,343.7 L290.5,343.6 L292.0,343.6 L293.5,343.6 L295.0,343.6 L296.5,343.6 L298.1,343.6 L299.6,343.5 L301.1,343.5 L302.6,343.5 L304.1,343.5 L305.6,343.5 L307.1,343.4 L308.6,343.4 L310.1,343.4 L311.6,343.4 L313.1,343.4 L314.6,343.3 L316.1,343.3 L317.7,343.3 L319.2,343.3 L320.7,343.2 L322.2,343.2 L323.7,343.2 L325.2,343.1 L326.7,343.1 L328.2,343.1 L329.7,343.0 L331.2,343.0 L332.7,343.0 L334.2,342.9 L335.8,342.9 L337.3,342.8 L338.8,342.8 L340.3,342.7 L341.8,342.7 L343.3,342.7 L344.8,342.6 L346.3,342.6 L347.8,342.5 L349.3,342.5 L350.8,342.4 L352.3,342.3 L353.8,342.3 L355.4,342.2 L356.9,342.2 L358.4,342.1 L359.9,342.0 L361.4,342.0 L362.9,341.9 L364.4,341.8 L365.9,341.8 L367.4,341.7 L368.9,341.6 L370.4,341.5 L371.9,341.5 L373.5,341.4 L375.0,341.3 L376.5,341.2 L378.0,341.1 L379.5,341.0 L381.0,340.9 L382.5,340.8 L384.0,340.7 L385.5,340.6 L387.0,340.5 L388.5,340.4 L390.0,340.3 L391.6,340.2 L393.1,340.1 L394.6,339.9 L396.1,339.8 L397.6,339.7 L399.1,339.6 L400.6,339.4 L402.1,339.3 L403.6,339.2 L405.1,339.0 L406.6,338.9 L408.1,338.7 L409.6,338.6 L411.2,338.4 L412.7,338.2 L414.2,338.1 L415.7,337.9 L417.2,337.7 L418.7,337.6 L420.2,337.4 L421.7,337.2 L423.2,337.0 L424.7,336.8 L426.2,336.6 L427.7,336.4 L429.3,336.2 L430.8,336.0 L432.3,335.8 L433.8,335.5 L435.3,335.3 L436.8,335.1 L438.3,334.8 L439.8,334.6 L441.3,334.4 L442.8,334.1 L444.3,333.8 L445.8,333.6 L447.3,333.3 L448.9,333.0 L450.4,332.7 L451.9,332.4 L453.4,332.2 L454.9,331.9 L456.4,331.5 L457.9,331.2 L459.4,330.9 L460.9,330.6 L462.4,330.2 L463.9,329.9 L465.4,329.6 L467.0,329.2 L468.5,328.8 L470.0,328.5 L471.5,328.1 L473.0,327.7 L474.5,327.3 L476.0,326.9 L477.5,326.5 L479.0,326.1 L480.5,325.6 L482.0,325.2 L483.5,324.8 L485.0,324.3 L486.6,323.9 L488.1,323.4 L489.6,322.9 L491.1,322.4 L492.6,321.9 L494.1,321.4 L495.6,320.9 L497.1,320.4 L498.6,319.8 L500.1,319.3 L501.6,318.7 L503.1,318.2 L504.7,317.6 L506.2,317.0 L507.7,316.4 L509.2,315.8 L510.7,315.2 L512.2,314.5 L513.7,313.9 L515.2,313.2 L516.7,312.6 L518.2,311.9 L519.7,311.2 L521.2,310.5 L522.7,309.8 L524.3,309.0 L525.8,308.3 L527.3,307.5 L528.8,306.8 L530.3,306.0 L531.8,305.2 L533.3,304.4 L534.8,303.6 L536.3,302.7 L537.8,301.9 L539.3,301.0 L540.8,300.1 L542.4,299.2 L543.9,298.3 L545.4,297.4 L546.9,296.4 L548.4,295.5 L549.9,294.5 L551.4,293.5 L552.9,292.5 L554.4,291.5 L555.9,290.4 L557.4,289.4 L558.9,288.3 L560.4,287.2 L562.0,286.1 L563.5,285.0 L565.0,283.8 L566.5,282.6 L568.0,281.5 L569.5,280.2 L571.0,279.0 L572.5,277.8 L574.0,276.5 L575.5,275.2 L577.0,273.9 L578.5,272.6 L580.1,271.3 L581.6,269.9 L583.1,268.5 L584.6,267.1 L586.1,265.7 L587.6,264.2 L589.1,262.7 L590.6,261.2 L592.1,259.7 L593.6,258.2 L595.1,256.6 L596.6,255.0 L598.1,253.4 L599.7,251.8 L601.2,250.1 L602.7,248.4 L604.2,246.7 L605.7,245.0 L607.2,243.2 L608.7,241.4 L610.2,239.6 L611.7,237.7 L613.2,235.9 L614.7,234.0 L616.2,232.1 L617.8,230.1 L619.3,228.1 L620.8,226.1 L622.3,224.1 L623.8,222.0 L625.3,219.9 L626.8,217.8 L628.3,215.6 L629.8,213.4 L631.3,211.2 L632.8,208.9 L634.3,206.7 L635.9,204.3 L637.4,202.0 L638.9,199.6 L640.4,197.2 L641.9,194.8 L643.4,192.3 L644.9,189.8 L646.4,187.2 L647.9,184.6 L649.4,182.0 L650.9,179.4 L652.4,176.7 L653.9,173.9 L655.5,171.2 L657.0,168.4 L658.5,165.5 L660.0,162.6 L661.5,159.7 L663.0,156.8 L664.5,153.8 L666.0,150.7 L667.5,147.7 L669.0,144.6 L670.5,141.4 L672.0,138.2 L673.6,135.0 L675.1,131.7 L676.6,128.4 L678.1,125.0 L679.6,121.6 L681.1,118.1 L682.6,114.6 L684.1,111.1 L685.6,107.5 L687.1,103.8 L688.6,100.2 L690.1,96.4 L691.6,92.7 L693.2,88.8 L694.7,85.0 L696.2,81.0 L697.7,77.1 L699.2,73.1 L700.7,69.0 L702.2,64.9 L703.7,60.7 L705.2,56.5 L706.7,52.2 L708.2,47.9 L709.7,43.5 L711.3,39.0 L712.8,34.5 L714.3,30.0 L715.8,25.4 L717.3,20.7 L718.8,16.0 L720.3,11.3" stroke="#4da6ff" stroke-width="4.7" stroke-dasharray="19.8 8 3.95 8"/>
<line x1="100.9" y1="343.94" x2="720.3" y2="343.94" stroke="#000" stroke-width="2.3"/>
</g>
<g stroke="#000">
<line x1="100.9" y1="525.87" x2="108.4" y2="525.87" stroke-width="1.15"/><line x1="100.9" y1="507.01" x2="108.4" y2="507.01" stroke-width="1.15"/><line x1="100.9" y1="493.63" x2="108.4" y2="493.63" stroke-width="1.15"/><line x1="100.9" y1="483.25" x2="108.4" y2="483.25" stroke-width="1.15"/><line x1="100.9" y1="474.78" x2="108.4" y2="474.78" stroke-width="1.15"/><line x1="100.9" y1="467.61" x2="108.4" y2="467.61" stroke-width="1.15"/><line x1="100.9" y1="461.40" x2="108.4" y2="461.40" stroke-width="1.15"/><line x1="100.9" y1="455.92" x2="108.4" y2="455.92" stroke-width="1.15"/><line x1="100.9" y1="451.02" x2="113.80000000000001" y2="451.02" stroke-width="2.4"/><line x1="100.9" y1="418.79" x2="108.4" y2="418.79" stroke-width="1.15"/><line x1="100.9" y1="399.93" x2="108.4" y2="399.93" stroke-width="1.15"/><line x1="100.9" y1="386.55" x2="108.4" y2="386.55" stroke-width="1.15"/><line x1="100.9" y1="376.17" x2="108.4" y2="376.17" stroke-width="1.15"/><line x1="100.9" y1="367.70" x2="108.4" y2="367.70" stroke-width="1.15"/><line x1="100.9" y1="360.53" x2="108.4" y2="360.53" stroke-width="1.15"/><line x1="100.9" y1="354.32" x2="108.4" y2="354.32" stroke-width="1.15"/><line x1="100.9" y1="348.84" x2="108.4" y2="348.84" stroke-width="1.15"/><line x1="100.9" y1="343.94" x2="113.80000000000001" y2="343.94" stroke-width="2.4"/><line x1="100.9" y1="311.71" x2="108.4" y2="311.71" stroke-width="1.15"/><line x1="100.9" y1="292.85" x2="108.4" y2="292.85" stroke-width="1.15"/><line x1="100.9" y1="279.47" x2="108.4" y2="279.47" stroke-width="1.15"/><line x1="100.9" y1="269.09" x2="108.4" y2="269.09" stroke-width="1.15"/><line x1="100.9" y1="260.62" x2="108.4" y2="260.62" stroke-width="1.15"/><line x1="100.9" y1="253.45" x2="108.4" y2="253.45" stroke-width="1.15"/><line x1="100.9" y1="247.24" x2="108.4" y2="247.24" stroke-width="1.15"/><line x1="100.9" y1="241.76" x2="108.4" y2="241.76" stroke-width="1.15"/><line x1="100.9" y1="236.86" x2="113.80000000000001" y2="236.86" stroke-width="2.4"/><line x1="100.9" y1="204.63" x2="108.4" y2="204.63" stroke-width="1.15"/><line x1="100.9" y1="185.77" x2="108.4" y2="185.77" stroke-width="1.15"/><line x1="100.9" y1="172.39" x2="108.4" y2="172.39" stroke-width="1.15"/><line x1="100.9" y1="162.01" x2="108.4" y2="162.01" stroke-width="1.15"/><line x1="100.9" y1="153.54" x2="108.4" y2="153.54" stroke-width="1.15"/><line x1="100.9" y1="146.37" x2="108.4" y2="146.37" stroke-width="1.15"/><line x1="100.9" y1="140.16" x2="108.4" y2="140.16" stroke-width="1.15"/><line x1="100.9" y1="134.68" x2="108.4" y2="134.68" stroke-width="1.15"/><line x1="100.9" y1="129.78" x2="113.80000000000001" y2="129.78" stroke-width="2.4"/><line x1="100.9" y1="97.55" x2="108.4" y2="97.55" stroke-width="1.15"/><line x1="100.9" y1="78.69" x2="108.4" y2="78.69" stroke-width="1.15"/><line x1="100.9" y1="65.31" x2="108.4" y2="65.31" stroke-width="1.15"/><line x1="100.9" y1="54.93" x2="108.4" y2="54.93" stroke-width="1.15"/><line x1="100.9" y1="46.46" x2="108.4" y2="46.46" stroke-width="1.15"/><line x1="100.9" y1="39.29" x2="108.4" y2="39.29" stroke-width="1.15"/><line x1="100.9" y1="33.08" x2="108.4" y2="33.08" stroke-width="1.15"/><line x1="100.9" y1="27.60" x2="108.4" y2="27.60" stroke-width="1.15"/><line x1="189.39" y1="558.1" x2="189.39" y2="545.4" stroke-width="2.2"/><line x1="277.87" y1="558.1" x2="277.87" y2="545.4" stroke-width="2.2"/><line x1="366.36" y1="558.1" x2="366.36" y2="545.4" stroke-width="2.2"/><line x1="454.84" y1="558.1" x2="454.84" y2="545.4" stroke-width="2.2"/><line x1="543.33" y1="558.1" x2="543.33" y2="545.4" stroke-width="2.2"/><line x1="631.81" y1="558.1" x2="631.81" y2="545.4" stroke-width="2.2"/>
</g>
<rect x="100.9" y="22.7" width="619.4" height="535.4" fill="none" stroke="#000" stroke-width="2.9"/>
<!-- legend -->
<g fill="none">
<line x1="133.4" y1="409.5" x2="211.2" y2="409.5" stroke="#ff4dff" stroke-width="5.1" stroke-dasharray="7 2.2"/>
<line x1="133.4" y1="446.4" x2="211.2" y2="446.4" stroke="#ffa040" stroke-width="2.6" stroke-dasharray="13.3 5.3 2.66 5.3"/>
<line x1="133.4" y1="483.4" x2="211.2" y2="483.4" stroke="#4d004d" stroke-width="5.1"/>
<line x1="133.4" y1="520.4" x2="211.2" y2="520.4" stroke="#4da6ff" stroke-width="4.7" stroke-dasharray="19.8 8 3.95 8"/>
</g>
<g font-size="25">
<text x="221.7" y="417.6" font-style="italic">m</text>
<path d="M245.7,411.2H262.9M245.7,414.7H262.9" stroke="#000" stroke-width="1.25" fill="none"/>
<text x="268.8" y="417.6" font-size="25.4">0</text>
<text x="221.6" y="454.5">Semi-empirical (LE-focused)</text>
<text x="221.7" y="491.5" font-style="italic">m</text>
<path d="M245.7,485.1H262.9M245.7,488.6H262.9" stroke="#000" stroke-width="1.25" fill="none"/>
<text x="268.8" y="491.5" font-size="25.4">16</text>
<text x="221.6" y="528.5">Curve-fit</text>
</g>
<text x="67.3" y="566.1" text-anchor="end" font-size="25.4">10</text><line x1="67.8" y1="552.2" x2="78.3" y2="552.2" stroke="#000" stroke-width="1.25"/><text x="88.3" y="556.6" text-anchor="end" font-size="17.3">2</text><text x="67.3" y="459.0" text-anchor="end" font-size="25.4">10</text><line x1="67.8" y1="445.1" x2="78.3" y2="445.1" stroke="#000" stroke-width="1.25"/><text x="88.3" y="449.5" text-anchor="end" font-size="17.3">1</text><text x="79.9" y="351.9" text-anchor="end" font-size="25.4">10</text><text x="88.3" y="342.4" text-anchor="end" font-size="17.3">0</text><text x="79.9" y="244.9" text-anchor="end" font-size="25.4">10</text><text x="88.3" y="235.4" text-anchor="end" font-size="17.3">1</text><text x="79.9" y="137.8" text-anchor="end" font-size="25.4">10</text><text x="88.3" y="128.3" text-anchor="end" font-size="17.3">2</text><text x="79.9" y="30.7" text-anchor="end" font-size="25.4">10</text><text x="88.3" y="21.2" text-anchor="end" font-size="17.3">3</text>
<text x="100.3" y="587.6" text-anchor="middle" font-size="25.4">0</text><text x="188.8" y="587.6" text-anchor="middle" font-size="25.4">0.5</text><text x="277.3" y="587.6" text-anchor="middle" font-size="25.4">1.0</text><text x="365.8" y="587.6" text-anchor="middle" font-size="25.4">1.5</text><text x="454.2" y="587.6" text-anchor="middle" font-size="25.4">2.0</text><text x="542.7" y="587.6" text-anchor="middle" font-size="25.4">2.5</text><text x="631.2" y="587.6" text-anchor="middle" font-size="25.4">3.0</text><text x="719.7" y="587.6" text-anchor="middle" font-size="25.4">3.5</text>
<text x="387.6" y="625.6" font-size="31" font-style="italic">St</text>
<text x="411" y="630.2" font-size="20.4" font-style="italic">LE</text>
<g transform="translate(25,368.8) rotate(-90)" font-size="31">
<text x="-2.8" y="0">SR</text>
<text x="34.7" y="4.3" font-size="20" font-style="italic">phase</text>
<text x="83.4" y="0">(</text>
<text x="92.7" y="0" font-style="italic">m</text>
<text x="114.5" y="0">,</text>
<text x="129" y="0" font-style="italic" textLength="12" lengthAdjust="spacingAndGlyphs">f</text>
<text x="146.6" y="0">)</text>
</g>
</svg>
</body></html>
